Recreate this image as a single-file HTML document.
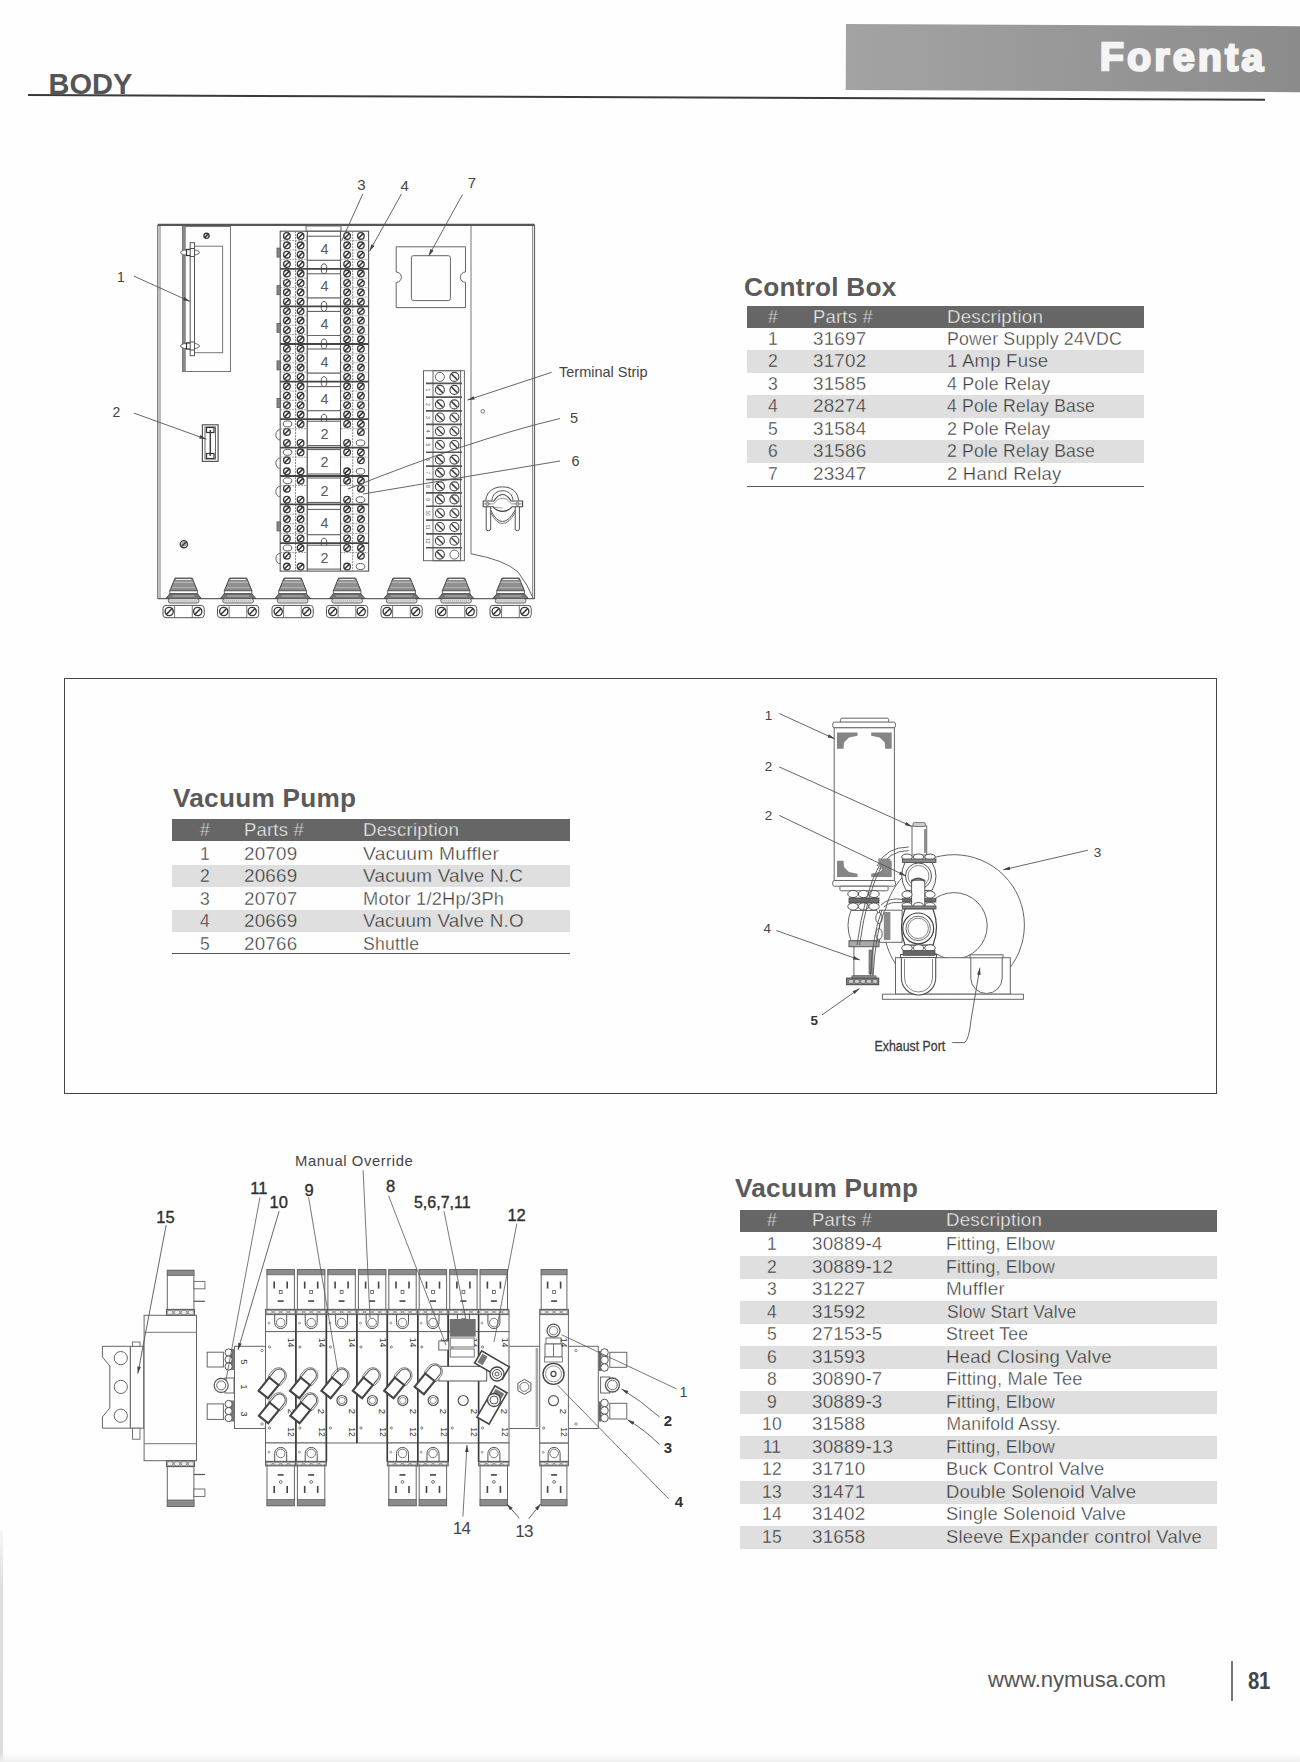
<!DOCTYPE html>
<html><head><meta charset="utf-8">
<style>
html,body{margin:0;padding:0;}
body{width:1300px;height:1762px;position:relative;overflow:hidden;background:#fefefe;font-family:"Liberation Sans",sans-serif;color:#4a4a4a;}
.a{position:absolute;}
.banner{left:845.5px;top:24.3px;width:456px;height:65.7px;transform-origin:0 0;transform:rotate(0.27deg);background:linear-gradient(90deg,#a3a3a3 0%,#999 45%,#8b8b8b 100%);}
.forenta{left:1099.5px;top:32.5px;transform-origin:0 0;transform:rotate(0.27deg);font-weight:bold;font-size:39.5px;color:#f4f4f4;letter-spacing:3.1px;-webkit-text-stroke:2.3px #f4f4f4;line-height:46px;}
.body-t{left:48.5px;top:66.5px;font-weight:bold;font-size:29px;color:#555;line-height:34px;}
.hr{left:28px;top:94.3px;width:1237px;height:2.2px;background:#3a3a3a;transform-origin:0 50%;transform:rotate(0.222deg);}
.title{font-weight:bold;font-size:26.2px;color:#5a5a5a;line-height:30px;letter-spacing:0.25px;}
.hd{background:#666;}
.gr{background:#dfdfdf;}
.tx{font-size:17.5px;line-height:22.6px;white-space:nowrap;letter-spacing:0.2px;color:#363636;-webkit-text-stroke:0.35px #fefefe;}
.txg{-webkit-text-stroke:0.35px #dfdfdf;}
.sc{transform-origin:0 50%;}
.hdt{color:#f2f2f2;-webkit-text-stroke:0.35px #666;}
.foot{left:988px;top:1666.6px;font-size:22.1px;color:#555;}
.pg{left:1248.3px;top:1666.7px;font-size:24.2px;font-weight:bold;color:#444;letter-spacing:-0.4px;transform:scaleX(0.84);transform-origin:0 0;}
.vbar{left:1231px;top:1660.5px;width:1.8px;height:40px;background:#777;}
.edgeL{left:0;top:1530px;width:3.2px;height:232px;background:linear-gradient(180deg,#f6f6f6,#dfdfdf 25%,#dcdcdc);}
.edgeB{left:0;top:1752px;width:1300px;height:10px;background:linear-gradient(180deg,rgba(240,240,240,0),#f0f0f0);}
svg{position:absolute;left:0;top:0;}
</style></head>
<body>
<svg width="1300" height="1762" viewBox="0 0 1300 1762" style="position:absolute;left:0;top:0" font-family="Liberation Sans, sans-serif"><line x1="157.8" y1="224.8" x2="534.5" y2="224.8" stroke="#555" stroke-width="2.2" /><line x1="157.8" y1="224.8" x2="157.8" y2="599" stroke="#666" stroke-width="1.2" /><line x1="160" y1="226" x2="160" y2="599" stroke="#777" stroke-width="1" /><line x1="534.5" y1="224.8" x2="534.5" y2="599" stroke="#666" stroke-width="1.2" /><line x1="532.6" y1="226" x2="532.6" y2="598" stroke="#888" stroke-width="1" /><line x1="157.8" y1="598.6" x2="534.5" y2="598.6" stroke="#666" stroke-width="1.3" /><line x1="471" y1="226" x2="471" y2="553.8" stroke="#777" stroke-width="1" /><path d="M471 553.8 Q505 560 518 572 Q528 585 533 598" stroke="#666" stroke-width="1" fill="none"/><rect x="182.5" y="226.5" width="48" height="145" stroke="#777" stroke-width="1" fill="none" /><line x1="184.3" y1="226.5" x2="184.3" y2="371.3" stroke="#888" stroke-width="3" /><rect x="194.4" y="246.2" width="28.2" height="106.5" stroke="#777" stroke-width="1" fill="none" /><rect x="190.2" y="242.7" width="4.3" height="113" stroke="#555" stroke-width="1" fill="#fff" /><ellipse cx="190" cy="252.5" rx="9.5" ry="3" stroke="#666" stroke-width="1" fill="#fff"/><rect x="186.5" y="249.5" width="5" height="6" stroke="#333" stroke-width="1.2" fill="#fff" /><rect x="190.2" y="248.5" width="4.3" height="8" stroke="#555" stroke-width="1" fill="#fff" /><ellipse cx="190" cy="346" rx="9.5" ry="3" stroke="#666" stroke-width="1" fill="#fff"/><rect x="186.5" y="343" width="5" height="6" stroke="#333" stroke-width="1.2" fill="#fff" /><rect x="190.2" y="342" width="4.3" height="8" stroke="#555" stroke-width="1" fill="#fff" /><circle cx="206.5" cy="235.8" r="2.6" stroke="#3a3a3a" stroke-width="1.35" fill="#fff"/><line x1="204.6" y1="237.7" x2="208.4" y2="233.9" stroke="#333" stroke-width="1.6" /><rect x="202.4" y="424.8" width="15.7" height="36.6" stroke="#555" stroke-width="1.2" fill="none" /><rect x="205" y="427" width="10.5" height="32" stroke="#666" stroke-width="1" fill="none" /><line x1="210.3" y1="430" x2="210.3" y2="456" stroke="#444" stroke-width="1.5" /><rect x="206.5" y="427.5" width="7.5" height="5" stroke="#333" stroke-width="1.2" fill="none" /><rect x="206.5" y="453.5" width="7.5" height="5" stroke="#333" stroke-width="1.2" fill="none" /><rect x="280.2" y="231.2" width="88.4" height="339.9" fill="#fff" stroke="#555" stroke-width="1.1"/><rect x="306" y="226" width="35" height="5.2" stroke="#666" stroke-width="1" fill="none" /><line x1="295.5" y1="231.2" x2="295.5" y2="571.1" stroke="#777" stroke-width="0.9" stroke-dasharray="2,1"/><line x1="352.7" y1="231.2" x2="352.7" y2="571.1" stroke="#777" stroke-width="0.9" stroke-dasharray="2,1"/><line x1="307.3" y1="231.2" x2="307.3" y2="571.1" stroke="#555" stroke-width="1.1" /><line x1="340.5" y1="231.2" x2="340.5" y2="571.1" stroke="#555" stroke-width="1.1" /><circle cx="286.9" cy="235.9" r="3.3" stroke="#3a3a3a" stroke-width="1.35" fill="#fff"/><line x1="284.5" y1="238.3" x2="289.3" y2="233.5" stroke="#333" stroke-width="1.6" /><circle cx="300.6" cy="235.9" r="3.3" stroke="#3a3a3a" stroke-width="1.35" fill="#fff"/><line x1="298.2" y1="238.3" x2="303" y2="233.5" stroke="#333" stroke-width="1.6" /><circle cx="347.1" cy="235.9" r="3.3" stroke="#3a3a3a" stroke-width="1.35" fill="#fff"/><line x1="344.7" y1="238.3" x2="349.5" y2="233.5" stroke="#333" stroke-width="1.6" /><circle cx="360.9" cy="235.9" r="3.3" stroke="#3a3a3a" stroke-width="1.35" fill="#fff"/><line x1="358.5" y1="238.3" x2="363.3" y2="233.5" stroke="#333" stroke-width="1.6" /><circle cx="286.9" cy="245.3" r="3.3" stroke="#3a3a3a" stroke-width="1.35" fill="#fff"/><line x1="284.5" y1="247.7" x2="289.3" y2="242.9" stroke="#333" stroke-width="1.6" /><circle cx="300.6" cy="245.3" r="3.3" stroke="#3a3a3a" stroke-width="1.35" fill="#fff"/><line x1="298.2" y1="247.7" x2="303" y2="242.9" stroke="#333" stroke-width="1.6" /><circle cx="347.1" cy="245.3" r="3.3" stroke="#3a3a3a" stroke-width="1.35" fill="#fff"/><line x1="344.7" y1="247.7" x2="349.5" y2="242.9" stroke="#333" stroke-width="1.6" /><circle cx="360.9" cy="245.3" r="3.3" stroke="#3a3a3a" stroke-width="1.35" fill="#fff"/><line x1="358.5" y1="247.7" x2="363.3" y2="242.9" stroke="#333" stroke-width="1.6" /><line x1="280.2" y1="240.6" x2="307.3" y2="240.6" stroke="#888" stroke-width="0.8" stroke-dasharray="2,1"/><line x1="340.5" y1="240.6" x2="368.6" y2="240.6" stroke="#888" stroke-width="0.8" stroke-dasharray="2,1"/><circle cx="286.9" cy="254.7" r="3.3" stroke="#3a3a3a" stroke-width="1.35" fill="#fff"/><line x1="284.5" y1="257.1" x2="289.3" y2="252.3" stroke="#333" stroke-width="1.6" /><circle cx="300.6" cy="254.7" r="3.3" stroke="#3a3a3a" stroke-width="1.35" fill="#fff"/><line x1="298.2" y1="257.1" x2="303" y2="252.3" stroke="#333" stroke-width="1.6" /><circle cx="347.1" cy="254.7" r="3.3" stroke="#3a3a3a" stroke-width="1.35" fill="#fff"/><line x1="344.7" y1="257.1" x2="349.5" y2="252.3" stroke="#333" stroke-width="1.6" /><circle cx="360.9" cy="254.7" r="3.3" stroke="#3a3a3a" stroke-width="1.35" fill="#fff"/><line x1="358.5" y1="257.1" x2="363.3" y2="252.3" stroke="#333" stroke-width="1.6" /><line x1="280.2" y1="250" x2="307.3" y2="250" stroke="#888" stroke-width="0.8" stroke-dasharray="2,1"/><line x1="340.5" y1="250" x2="368.6" y2="250" stroke="#888" stroke-width="0.8" stroke-dasharray="2,1"/><circle cx="286.9" cy="264.1" r="3.3" stroke="#3a3a3a" stroke-width="1.35" fill="#fff"/><line x1="284.5" y1="266.5" x2="289.3" y2="261.7" stroke="#333" stroke-width="1.6" /><circle cx="300.6" cy="264.1" r="3.3" stroke="#3a3a3a" stroke-width="1.35" fill="#fff"/><line x1="298.2" y1="266.5" x2="303" y2="261.7" stroke="#333" stroke-width="1.6" /><circle cx="347.1" cy="264.1" r="3.3" stroke="#3a3a3a" stroke-width="1.35" fill="#fff"/><line x1="344.7" y1="266.5" x2="349.5" y2="261.7" stroke="#333" stroke-width="1.6" /><circle cx="360.9" cy="264.1" r="3.3" stroke="#3a3a3a" stroke-width="1.35" fill="#fff"/><line x1="358.5" y1="266.5" x2="363.3" y2="261.7" stroke="#333" stroke-width="1.6" /><line x1="280.2" y1="259.4" x2="307.3" y2="259.4" stroke="#888" stroke-width="0.8" stroke-dasharray="2,1"/><line x1="340.5" y1="259.4" x2="368.6" y2="259.4" stroke="#888" stroke-width="0.8" stroke-dasharray="2,1"/><rect x="307.3" y="236.2" width="33.2" height="24.1" stroke="#555" stroke-width="1" fill="#fff" /><text x="324.5" y="253.8" font-size="14.5" text-anchor="middle" fill="#5a5a5a" >4</text><ellipse cx="324" cy="268.8" rx="2.8" ry="5" fill="#fff" stroke="#555" stroke-width="1"/><line x1="307.3" y1="260.3" x2="340.5" y2="260.3" stroke="#777" stroke-width="0.8" stroke-dasharray="2,1"/><rect x="277" y="248.1" width="3.2" height="9" fill="#888" stroke="#555" stroke-width="0.8"/><line x1="280.2" y1="268.8" x2="368.6" y2="268.8" stroke="#444" stroke-width="1.8" /><circle cx="286.9" cy="273.5" r="3.3" stroke="#3a3a3a" stroke-width="1.35" fill="#fff"/><line x1="284.5" y1="275.9" x2="289.3" y2="271.1" stroke="#333" stroke-width="1.6" /><circle cx="300.6" cy="273.5" r="3.3" stroke="#3a3a3a" stroke-width="1.35" fill="#fff"/><line x1="298.2" y1="275.9" x2="303" y2="271.1" stroke="#333" stroke-width="1.6" /><circle cx="347.1" cy="273.5" r="3.3" stroke="#3a3a3a" stroke-width="1.35" fill="#fff"/><line x1="344.7" y1="275.9" x2="349.5" y2="271.1" stroke="#333" stroke-width="1.6" /><circle cx="360.9" cy="273.5" r="3.3" stroke="#3a3a3a" stroke-width="1.35" fill="#fff"/><line x1="358.5" y1="275.9" x2="363.3" y2="271.1" stroke="#333" stroke-width="1.6" /><circle cx="286.9" cy="282.9" r="3.3" stroke="#3a3a3a" stroke-width="1.35" fill="#fff"/><line x1="284.5" y1="285.3" x2="289.3" y2="280.5" stroke="#333" stroke-width="1.6" /><circle cx="300.6" cy="282.9" r="3.3" stroke="#3a3a3a" stroke-width="1.35" fill="#fff"/><line x1="298.2" y1="285.3" x2="303" y2="280.5" stroke="#333" stroke-width="1.6" /><circle cx="347.1" cy="282.9" r="3.3" stroke="#3a3a3a" stroke-width="1.35" fill="#fff"/><line x1="344.7" y1="285.3" x2="349.5" y2="280.5" stroke="#333" stroke-width="1.6" /><circle cx="360.9" cy="282.9" r="3.3" stroke="#3a3a3a" stroke-width="1.35" fill="#fff"/><line x1="358.5" y1="285.3" x2="363.3" y2="280.5" stroke="#333" stroke-width="1.6" /><line x1="280.2" y1="278.2" x2="307.3" y2="278.2" stroke="#888" stroke-width="0.8" stroke-dasharray="2,1"/><line x1="340.5" y1="278.2" x2="368.6" y2="278.2" stroke="#888" stroke-width="0.8" stroke-dasharray="2,1"/><circle cx="286.9" cy="292.3" r="3.3" stroke="#3a3a3a" stroke-width="1.35" fill="#fff"/><line x1="284.5" y1="294.7" x2="289.3" y2="289.9" stroke="#333" stroke-width="1.6" /><circle cx="300.6" cy="292.3" r="3.3" stroke="#3a3a3a" stroke-width="1.35" fill="#fff"/><line x1="298.2" y1="294.7" x2="303" y2="289.9" stroke="#333" stroke-width="1.6" /><circle cx="347.1" cy="292.3" r="3.3" stroke="#3a3a3a" stroke-width="1.35" fill="#fff"/><line x1="344.7" y1="294.7" x2="349.5" y2="289.9" stroke="#333" stroke-width="1.6" /><circle cx="360.9" cy="292.3" r="3.3" stroke="#3a3a3a" stroke-width="1.35" fill="#fff"/><line x1="358.5" y1="294.7" x2="363.3" y2="289.9" stroke="#333" stroke-width="1.6" /><line x1="280.2" y1="287.6" x2="307.3" y2="287.6" stroke="#888" stroke-width="0.8" stroke-dasharray="2,1"/><line x1="340.5" y1="287.6" x2="368.6" y2="287.6" stroke="#888" stroke-width="0.8" stroke-dasharray="2,1"/><circle cx="286.9" cy="301.7" r="3.3" stroke="#3a3a3a" stroke-width="1.35" fill="#fff"/><line x1="284.5" y1="304.1" x2="289.3" y2="299.3" stroke="#333" stroke-width="1.6" /><circle cx="300.6" cy="301.7" r="3.3" stroke="#3a3a3a" stroke-width="1.35" fill="#fff"/><line x1="298.2" y1="304.1" x2="303" y2="299.3" stroke="#333" stroke-width="1.6" /><circle cx="347.1" cy="301.7" r="3.3" stroke="#3a3a3a" stroke-width="1.35" fill="#fff"/><line x1="344.7" y1="304.1" x2="349.5" y2="299.3" stroke="#333" stroke-width="1.6" /><circle cx="360.9" cy="301.7" r="3.3" stroke="#3a3a3a" stroke-width="1.35" fill="#fff"/><line x1="358.5" y1="304.1" x2="363.3" y2="299.3" stroke="#333" stroke-width="1.6" /><line x1="280.2" y1="297" x2="307.3" y2="297" stroke="#888" stroke-width="0.8" stroke-dasharray="2,1"/><line x1="340.5" y1="297" x2="368.6" y2="297" stroke="#888" stroke-width="0.8" stroke-dasharray="2,1"/><rect x="307.3" y="273.8" width="33.2" height="24.1" stroke="#555" stroke-width="1" fill="#fff" /><text x="324.5" y="291.4" font-size="14.5" text-anchor="middle" fill="#5a5a5a" >4</text><ellipse cx="324" cy="306.4" rx="2.8" ry="5" fill="#fff" stroke="#555" stroke-width="1"/><line x1="307.3" y1="297.9" x2="340.5" y2="297.9" stroke="#777" stroke-width="0.8" stroke-dasharray="2,1"/><rect x="277" y="285.7" width="3.2" height="9" fill="#888" stroke="#555" stroke-width="0.8"/><line x1="280.2" y1="306.4" x2="368.6" y2="306.4" stroke="#444" stroke-width="1.8" /><circle cx="286.9" cy="311.1" r="3.3" stroke="#3a3a3a" stroke-width="1.35" fill="#fff"/><line x1="284.5" y1="313.5" x2="289.3" y2="308.7" stroke="#333" stroke-width="1.6" /><circle cx="300.6" cy="311.1" r="3.3" stroke="#3a3a3a" stroke-width="1.35" fill="#fff"/><line x1="298.2" y1="313.5" x2="303" y2="308.7" stroke="#333" stroke-width="1.6" /><circle cx="347.1" cy="311.1" r="3.3" stroke="#3a3a3a" stroke-width="1.35" fill="#fff"/><line x1="344.7" y1="313.5" x2="349.5" y2="308.7" stroke="#333" stroke-width="1.6" /><circle cx="360.9" cy="311.1" r="3.3" stroke="#3a3a3a" stroke-width="1.35" fill="#fff"/><line x1="358.5" y1="313.5" x2="363.3" y2="308.7" stroke="#333" stroke-width="1.6" /><circle cx="286.9" cy="320.5" r="3.3" stroke="#3a3a3a" stroke-width="1.35" fill="#fff"/><line x1="284.5" y1="322.9" x2="289.3" y2="318.1" stroke="#333" stroke-width="1.6" /><circle cx="300.6" cy="320.5" r="3.3" stroke="#3a3a3a" stroke-width="1.35" fill="#fff"/><line x1="298.2" y1="322.9" x2="303" y2="318.1" stroke="#333" stroke-width="1.6" /><circle cx="347.1" cy="320.5" r="3.3" stroke="#3a3a3a" stroke-width="1.35" fill="#fff"/><line x1="344.7" y1="322.9" x2="349.5" y2="318.1" stroke="#333" stroke-width="1.6" /><circle cx="360.9" cy="320.5" r="3.3" stroke="#3a3a3a" stroke-width="1.35" fill="#fff"/><line x1="358.5" y1="322.9" x2="363.3" y2="318.1" stroke="#333" stroke-width="1.6" /><line x1="280.2" y1="315.8" x2="307.3" y2="315.8" stroke="#888" stroke-width="0.8" stroke-dasharray="2,1"/><line x1="340.5" y1="315.8" x2="368.6" y2="315.8" stroke="#888" stroke-width="0.8" stroke-dasharray="2,1"/><circle cx="286.9" cy="329.9" r="3.3" stroke="#3a3a3a" stroke-width="1.35" fill="#fff"/><line x1="284.5" y1="332.3" x2="289.3" y2="327.5" stroke="#333" stroke-width="1.6" /><circle cx="300.6" cy="329.9" r="3.3" stroke="#3a3a3a" stroke-width="1.35" fill="#fff"/><line x1="298.2" y1="332.3" x2="303" y2="327.5" stroke="#333" stroke-width="1.6" /><circle cx="347.1" cy="329.9" r="3.3" stroke="#3a3a3a" stroke-width="1.35" fill="#fff"/><line x1="344.7" y1="332.3" x2="349.5" y2="327.5" stroke="#333" stroke-width="1.6" /><circle cx="360.9" cy="329.9" r="3.3" stroke="#3a3a3a" stroke-width="1.35" fill="#fff"/><line x1="358.5" y1="332.3" x2="363.3" y2="327.5" stroke="#333" stroke-width="1.6" /><line x1="280.2" y1="325.2" x2="307.3" y2="325.2" stroke="#888" stroke-width="0.8" stroke-dasharray="2,1"/><line x1="340.5" y1="325.2" x2="368.6" y2="325.2" stroke="#888" stroke-width="0.8" stroke-dasharray="2,1"/><circle cx="286.9" cy="339.3" r="3.3" stroke="#3a3a3a" stroke-width="1.35" fill="#fff"/><line x1="284.5" y1="341.7" x2="289.3" y2="336.9" stroke="#333" stroke-width="1.6" /><circle cx="300.6" cy="339.3" r="3.3" stroke="#3a3a3a" stroke-width="1.35" fill="#fff"/><line x1="298.2" y1="341.7" x2="303" y2="336.9" stroke="#333" stroke-width="1.6" /><circle cx="347.1" cy="339.3" r="3.3" stroke="#3a3a3a" stroke-width="1.35" fill="#fff"/><line x1="344.7" y1="341.7" x2="349.5" y2="336.9" stroke="#333" stroke-width="1.6" /><circle cx="360.9" cy="339.3" r="3.3" stroke="#3a3a3a" stroke-width="1.35" fill="#fff"/><line x1="358.5" y1="341.7" x2="363.3" y2="336.9" stroke="#333" stroke-width="1.6" /><line x1="280.2" y1="334.6" x2="307.3" y2="334.6" stroke="#888" stroke-width="0.8" stroke-dasharray="2,1"/><line x1="340.5" y1="334.6" x2="368.6" y2="334.6" stroke="#888" stroke-width="0.8" stroke-dasharray="2,1"/><rect x="307.3" y="311.4" width="33.2" height="24.1" stroke="#555" stroke-width="1" fill="#fff" /><text x="324.5" y="329" font-size="14.5" text-anchor="middle" fill="#5a5a5a" >4</text><ellipse cx="324" cy="344" rx="2.8" ry="5" fill="#fff" stroke="#555" stroke-width="1"/><line x1="307.3" y1="335.5" x2="340.5" y2="335.5" stroke="#777" stroke-width="0.8" stroke-dasharray="2,1"/><rect x="277" y="323.3" width="3.2" height="9" fill="#888" stroke="#555" stroke-width="0.8"/><line x1="280.2" y1="344" x2="368.6" y2="344" stroke="#444" stroke-width="1.8" /><circle cx="286.9" cy="348.7" r="3.3" stroke="#3a3a3a" stroke-width="1.35" fill="#fff"/><line x1="284.5" y1="351.1" x2="289.3" y2="346.3" stroke="#333" stroke-width="1.6" /><circle cx="300.6" cy="348.7" r="3.3" stroke="#3a3a3a" stroke-width="1.35" fill="#fff"/><line x1="298.2" y1="351.1" x2="303" y2="346.3" stroke="#333" stroke-width="1.6" /><circle cx="347.1" cy="348.7" r="3.3" stroke="#3a3a3a" stroke-width="1.35" fill="#fff"/><line x1="344.7" y1="351.1" x2="349.5" y2="346.3" stroke="#333" stroke-width="1.6" /><circle cx="360.9" cy="348.7" r="3.3" stroke="#3a3a3a" stroke-width="1.35" fill="#fff"/><line x1="358.5" y1="351.1" x2="363.3" y2="346.3" stroke="#333" stroke-width="1.6" /><circle cx="286.9" cy="358.1" r="3.3" stroke="#3a3a3a" stroke-width="1.35" fill="#fff"/><line x1="284.5" y1="360.5" x2="289.3" y2="355.7" stroke="#333" stroke-width="1.6" /><circle cx="300.6" cy="358.1" r="3.3" stroke="#3a3a3a" stroke-width="1.35" fill="#fff"/><line x1="298.2" y1="360.5" x2="303" y2="355.7" stroke="#333" stroke-width="1.6" /><circle cx="347.1" cy="358.1" r="3.3" stroke="#3a3a3a" stroke-width="1.35" fill="#fff"/><line x1="344.7" y1="360.5" x2="349.5" y2="355.7" stroke="#333" stroke-width="1.6" /><circle cx="360.9" cy="358.1" r="3.3" stroke="#3a3a3a" stroke-width="1.35" fill="#fff"/><line x1="358.5" y1="360.5" x2="363.3" y2="355.7" stroke="#333" stroke-width="1.6" /><line x1="280.2" y1="353.4" x2="307.3" y2="353.4" stroke="#888" stroke-width="0.8" stroke-dasharray="2,1"/><line x1="340.5" y1="353.4" x2="368.6" y2="353.4" stroke="#888" stroke-width="0.8" stroke-dasharray="2,1"/><circle cx="286.9" cy="367.5" r="3.3" stroke="#3a3a3a" stroke-width="1.35" fill="#fff"/><line x1="284.5" y1="369.9" x2="289.3" y2="365.1" stroke="#333" stroke-width="1.6" /><circle cx="300.6" cy="367.5" r="3.3" stroke="#3a3a3a" stroke-width="1.35" fill="#fff"/><line x1="298.2" y1="369.9" x2="303" y2="365.1" stroke="#333" stroke-width="1.6" /><circle cx="347.1" cy="367.5" r="3.3" stroke="#3a3a3a" stroke-width="1.35" fill="#fff"/><line x1="344.7" y1="369.9" x2="349.5" y2="365.1" stroke="#333" stroke-width="1.6" /><circle cx="360.9" cy="367.5" r="3.3" stroke="#3a3a3a" stroke-width="1.35" fill="#fff"/><line x1="358.5" y1="369.9" x2="363.3" y2="365.1" stroke="#333" stroke-width="1.6" /><line x1="280.2" y1="362.8" x2="307.3" y2="362.8" stroke="#888" stroke-width="0.8" stroke-dasharray="2,1"/><line x1="340.5" y1="362.8" x2="368.6" y2="362.8" stroke="#888" stroke-width="0.8" stroke-dasharray="2,1"/><circle cx="286.9" cy="376.9" r="3.3" stroke="#3a3a3a" stroke-width="1.35" fill="#fff"/><line x1="284.5" y1="379.3" x2="289.3" y2="374.5" stroke="#333" stroke-width="1.6" /><circle cx="300.6" cy="376.9" r="3.3" stroke="#3a3a3a" stroke-width="1.35" fill="#fff"/><line x1="298.2" y1="379.3" x2="303" y2="374.5" stroke="#333" stroke-width="1.6" /><circle cx="347.1" cy="376.9" r="3.3" stroke="#3a3a3a" stroke-width="1.35" fill="#fff"/><line x1="344.7" y1="379.3" x2="349.5" y2="374.5" stroke="#333" stroke-width="1.6" /><circle cx="360.9" cy="376.9" r="3.3" stroke="#3a3a3a" stroke-width="1.35" fill="#fff"/><line x1="358.5" y1="379.3" x2="363.3" y2="374.5" stroke="#333" stroke-width="1.6" /><line x1="280.2" y1="372.2" x2="307.3" y2="372.2" stroke="#888" stroke-width="0.8" stroke-dasharray="2,1"/><line x1="340.5" y1="372.2" x2="368.6" y2="372.2" stroke="#888" stroke-width="0.8" stroke-dasharray="2,1"/><rect x="307.3" y="349" width="33.2" height="24.1" stroke="#555" stroke-width="1" fill="#fff" /><text x="324.5" y="366.6" font-size="14.5" text-anchor="middle" fill="#5a5a5a" >4</text><ellipse cx="324" cy="381.6" rx="2.8" ry="5" fill="#fff" stroke="#555" stroke-width="1"/><line x1="307.3" y1="373.1" x2="340.5" y2="373.1" stroke="#777" stroke-width="0.8" stroke-dasharray="2,1"/><rect x="277" y="360.9" width="3.2" height="9" fill="#888" stroke="#555" stroke-width="0.8"/><line x1="280.2" y1="381.6" x2="368.6" y2="381.6" stroke="#444" stroke-width="1.8" /><circle cx="286.9" cy="386.3" r="3.3" stroke="#3a3a3a" stroke-width="1.35" fill="#fff"/><line x1="284.5" y1="388.7" x2="289.3" y2="383.9" stroke="#333" stroke-width="1.6" /><circle cx="300.6" cy="386.3" r="3.3" stroke="#3a3a3a" stroke-width="1.35" fill="#fff"/><line x1="298.2" y1="388.7" x2="303" y2="383.9" stroke="#333" stroke-width="1.6" /><circle cx="347.1" cy="386.3" r="3.3" stroke="#3a3a3a" stroke-width="1.35" fill="#fff"/><line x1="344.7" y1="388.7" x2="349.5" y2="383.9" stroke="#333" stroke-width="1.6" /><circle cx="360.9" cy="386.3" r="3.3" stroke="#3a3a3a" stroke-width="1.35" fill="#fff"/><line x1="358.5" y1="388.7" x2="363.3" y2="383.9" stroke="#333" stroke-width="1.6" /><circle cx="286.9" cy="395.7" r="3.3" stroke="#3a3a3a" stroke-width="1.35" fill="#fff"/><line x1="284.5" y1="398.1" x2="289.3" y2="393.3" stroke="#333" stroke-width="1.6" /><circle cx="300.6" cy="395.7" r="3.3" stroke="#3a3a3a" stroke-width="1.35" fill="#fff"/><line x1="298.2" y1="398.1" x2="303" y2="393.3" stroke="#333" stroke-width="1.6" /><circle cx="347.1" cy="395.7" r="3.3" stroke="#3a3a3a" stroke-width="1.35" fill="#fff"/><line x1="344.7" y1="398.1" x2="349.5" y2="393.3" stroke="#333" stroke-width="1.6" /><circle cx="360.9" cy="395.7" r="3.3" stroke="#3a3a3a" stroke-width="1.35" fill="#fff"/><line x1="358.5" y1="398.1" x2="363.3" y2="393.3" stroke="#333" stroke-width="1.6" /><line x1="280.2" y1="391" x2="307.3" y2="391" stroke="#888" stroke-width="0.8" stroke-dasharray="2,1"/><line x1="340.5" y1="391" x2="368.6" y2="391" stroke="#888" stroke-width="0.8" stroke-dasharray="2,1"/><circle cx="286.9" cy="405.1" r="3.3" stroke="#3a3a3a" stroke-width="1.35" fill="#fff"/><line x1="284.5" y1="407.5" x2="289.3" y2="402.7" stroke="#333" stroke-width="1.6" /><circle cx="300.6" cy="405.1" r="3.3" stroke="#3a3a3a" stroke-width="1.35" fill="#fff"/><line x1="298.2" y1="407.5" x2="303" y2="402.7" stroke="#333" stroke-width="1.6" /><circle cx="347.1" cy="405.1" r="3.3" stroke="#3a3a3a" stroke-width="1.35" fill="#fff"/><line x1="344.7" y1="407.5" x2="349.5" y2="402.7" stroke="#333" stroke-width="1.6" /><circle cx="360.9" cy="405.1" r="3.3" stroke="#3a3a3a" stroke-width="1.35" fill="#fff"/><line x1="358.5" y1="407.5" x2="363.3" y2="402.7" stroke="#333" stroke-width="1.6" /><line x1="280.2" y1="400.4" x2="307.3" y2="400.4" stroke="#888" stroke-width="0.8" stroke-dasharray="2,1"/><line x1="340.5" y1="400.4" x2="368.6" y2="400.4" stroke="#888" stroke-width="0.8" stroke-dasharray="2,1"/><circle cx="286.9" cy="414.5" r="3.3" stroke="#3a3a3a" stroke-width="1.35" fill="#fff"/><line x1="284.5" y1="416.9" x2="289.3" y2="412.1" stroke="#333" stroke-width="1.6" /><circle cx="300.6" cy="414.5" r="3.3" stroke="#3a3a3a" stroke-width="1.35" fill="#fff"/><line x1="298.2" y1="416.9" x2="303" y2="412.1" stroke="#333" stroke-width="1.6" /><circle cx="347.1" cy="414.5" r="3.3" stroke="#3a3a3a" stroke-width="1.35" fill="#fff"/><line x1="344.7" y1="416.9" x2="349.5" y2="412.1" stroke="#333" stroke-width="1.6" /><circle cx="360.9" cy="414.5" r="3.3" stroke="#3a3a3a" stroke-width="1.35" fill="#fff"/><line x1="358.5" y1="416.9" x2="363.3" y2="412.1" stroke="#333" stroke-width="1.6" /><line x1="280.2" y1="409.8" x2="307.3" y2="409.8" stroke="#888" stroke-width="0.8" stroke-dasharray="2,1"/><line x1="340.5" y1="409.8" x2="368.6" y2="409.8" stroke="#888" stroke-width="0.8" stroke-dasharray="2,1"/><rect x="307.3" y="386.6" width="33.2" height="24.1" stroke="#555" stroke-width="1" fill="#fff" /><text x="324.5" y="404.2" font-size="14.5" text-anchor="middle" fill="#5a5a5a" >4</text><ellipse cx="324" cy="419.2" rx="2.8" ry="5" fill="#fff" stroke="#555" stroke-width="1"/><line x1="307.3" y1="410.7" x2="340.5" y2="410.7" stroke="#777" stroke-width="0.8" stroke-dasharray="2,1"/><rect x="277" y="398.5" width="3.2" height="9" fill="#888" stroke="#555" stroke-width="0.8"/><line x1="280.2" y1="419.2" x2="368.6" y2="419.2" stroke="#444" stroke-width="1.8" /><circle cx="300.6" cy="423.9" r="3.3" stroke="#3a3a3a" stroke-width="1.35" fill="#fff"/><line x1="298.2" y1="426.3" x2="303" y2="421.6" stroke="#333" stroke-width="1.6" /><circle cx="347.1" cy="423.9" r="3.3" stroke="#3a3a3a" stroke-width="1.35" fill="#fff"/><line x1="344.7" y1="426.3" x2="349.5" y2="421.6" stroke="#333" stroke-width="1.6" /><circle cx="360.9" cy="423.9" r="3.3" stroke="#3a3a3a" stroke-width="1.35" fill="#fff"/><line x1="358.5" y1="426.3" x2="363.3" y2="421.6" stroke="#333" stroke-width="1.6" /><ellipse cx="287.5" cy="423.9" rx="4.3" ry="3" fill="none" stroke="#555" stroke-width="1"/><circle cx="286.9" cy="431.9" r="3.3" stroke="#3a3a3a" stroke-width="1.35" fill="#fff"/><line x1="284.5" y1="434.3" x2="289.3" y2="429.5" stroke="#333" stroke-width="1.6" /><circle cx="286.9" cy="442.9" r="3.3" stroke="#3a3a3a" stroke-width="1.35" fill="#fff"/><line x1="284.5" y1="445.2" x2="289.3" y2="440.5" stroke="#333" stroke-width="1.6" /><circle cx="300.6" cy="442.9" r="3.3" stroke="#3a3a3a" stroke-width="1.35" fill="#fff"/><line x1="298.2" y1="445.2" x2="303" y2="440.5" stroke="#333" stroke-width="1.6" /><circle cx="360.9" cy="431.9" r="3.3" stroke="#3a3a3a" stroke-width="1.35" fill="#fff"/><line x1="358.5" y1="434.3" x2="363.3" y2="429.5" stroke="#333" stroke-width="1.6" /><circle cx="347.1" cy="442.9" r="3.3" stroke="#3a3a3a" stroke-width="1.35" fill="#fff"/><line x1="344.7" y1="445.2" x2="349.5" y2="440.5" stroke="#333" stroke-width="1.6" /><ellipse cx="360.5" cy="442.9" rx="4.3" ry="3" fill="none" stroke="#555" stroke-width="1"/><line x1="280.2" y1="428.7" x2="307.3" y2="428.7" stroke="#888" stroke-width="0.8" stroke-dasharray="2,1"/><line x1="340.5" y1="428.7" x2="368.6" y2="428.7" stroke="#888" stroke-width="0.8" stroke-dasharray="2,1"/><rect x="307.3" y="421.2" width="33.2" height="24.4" stroke="#555" stroke-width="1" fill="#fff" /><text x="324.5" y="438.9" font-size="14.5" text-anchor="middle" fill="#5a5a5a" >2</text><path d="M280 429.6 a4 5 0 0 0 0 10.4" fill="none" stroke="#666" stroke-width="1"/><line x1="280.2" y1="447.6" x2="368.6" y2="447.6" stroke="#444" stroke-width="1.8" /><circle cx="300.6" cy="452.3" r="3.3" stroke="#3a3a3a" stroke-width="1.35" fill="#fff"/><line x1="298.2" y1="454.7" x2="303" y2="450" stroke="#333" stroke-width="1.6" /><circle cx="347.1" cy="452.3" r="3.3" stroke="#3a3a3a" stroke-width="1.35" fill="#fff"/><line x1="344.7" y1="454.7" x2="349.5" y2="450" stroke="#333" stroke-width="1.6" /><circle cx="360.9" cy="452.3" r="3.3" stroke="#3a3a3a" stroke-width="1.35" fill="#fff"/><line x1="358.5" y1="454.7" x2="363.3" y2="450" stroke="#333" stroke-width="1.6" /><ellipse cx="287.5" cy="452.3" rx="4.3" ry="3" fill="none" stroke="#555" stroke-width="1"/><circle cx="286.9" cy="460.3" r="3.3" stroke="#3a3a3a" stroke-width="1.35" fill="#fff"/><line x1="284.5" y1="462.7" x2="289.3" y2="457.9" stroke="#333" stroke-width="1.6" /><circle cx="286.9" cy="471.3" r="3.3" stroke="#3a3a3a" stroke-width="1.35" fill="#fff"/><line x1="284.5" y1="473.6" x2="289.3" y2="468.9" stroke="#333" stroke-width="1.6" /><circle cx="300.6" cy="471.3" r="3.3" stroke="#3a3a3a" stroke-width="1.35" fill="#fff"/><line x1="298.2" y1="473.6" x2="303" y2="468.9" stroke="#333" stroke-width="1.6" /><circle cx="360.9" cy="460.3" r="3.3" stroke="#3a3a3a" stroke-width="1.35" fill="#fff"/><line x1="358.5" y1="462.7" x2="363.3" y2="457.9" stroke="#333" stroke-width="1.6" /><circle cx="347.1" cy="471.3" r="3.3" stroke="#3a3a3a" stroke-width="1.35" fill="#fff"/><line x1="344.7" y1="473.6" x2="349.5" y2="468.9" stroke="#333" stroke-width="1.6" /><ellipse cx="360.5" cy="471.3" rx="4.3" ry="3" fill="none" stroke="#555" stroke-width="1"/><line x1="280.2" y1="457.1" x2="307.3" y2="457.1" stroke="#888" stroke-width="0.8" stroke-dasharray="2,1"/><line x1="340.5" y1="457.1" x2="368.6" y2="457.1" stroke="#888" stroke-width="0.8" stroke-dasharray="2,1"/><rect x="307.3" y="449.6" width="33.2" height="24.4" stroke="#555" stroke-width="1" fill="#fff" /><text x="324.5" y="467.3" font-size="14.5" text-anchor="middle" fill="#5a5a5a" >2</text><path d="M280 458 a4 5 0 0 0 0 10.4" fill="none" stroke="#666" stroke-width="1"/><line x1="280.2" y1="476" x2="368.6" y2="476" stroke="#444" stroke-width="1.8" /><circle cx="300.6" cy="480.7" r="3.3" stroke="#3a3a3a" stroke-width="1.35" fill="#fff"/><line x1="298.2" y1="483.1" x2="303" y2="478.4" stroke="#333" stroke-width="1.6" /><circle cx="347.1" cy="480.7" r="3.3" stroke="#3a3a3a" stroke-width="1.35" fill="#fff"/><line x1="344.7" y1="483.1" x2="349.5" y2="478.4" stroke="#333" stroke-width="1.6" /><circle cx="360.9" cy="480.7" r="3.3" stroke="#3a3a3a" stroke-width="1.35" fill="#fff"/><line x1="358.5" y1="483.1" x2="363.3" y2="478.4" stroke="#333" stroke-width="1.6" /><ellipse cx="287.5" cy="480.7" rx="4.3" ry="3" fill="none" stroke="#555" stroke-width="1"/><circle cx="286.9" cy="488.7" r="3.3" stroke="#3a3a3a" stroke-width="1.35" fill="#fff"/><line x1="284.5" y1="491.1" x2="289.3" y2="486.3" stroke="#333" stroke-width="1.6" /><circle cx="286.9" cy="499.7" r="3.3" stroke="#3a3a3a" stroke-width="1.35" fill="#fff"/><line x1="284.5" y1="502" x2="289.3" y2="497.3" stroke="#333" stroke-width="1.6" /><circle cx="300.6" cy="499.7" r="3.3" stroke="#3a3a3a" stroke-width="1.35" fill="#fff"/><line x1="298.2" y1="502" x2="303" y2="497.3" stroke="#333" stroke-width="1.6" /><circle cx="360.9" cy="488.7" r="3.3" stroke="#3a3a3a" stroke-width="1.35" fill="#fff"/><line x1="358.5" y1="491.1" x2="363.3" y2="486.3" stroke="#333" stroke-width="1.6" /><circle cx="347.1" cy="499.7" r="3.3" stroke="#3a3a3a" stroke-width="1.35" fill="#fff"/><line x1="344.7" y1="502" x2="349.5" y2="497.3" stroke="#333" stroke-width="1.6" /><ellipse cx="360.5" cy="499.7" rx="4.3" ry="3" fill="none" stroke="#555" stroke-width="1"/><line x1="280.2" y1="485.5" x2="307.3" y2="485.5" stroke="#888" stroke-width="0.8" stroke-dasharray="2,1"/><line x1="340.5" y1="485.5" x2="368.6" y2="485.5" stroke="#888" stroke-width="0.8" stroke-dasharray="2,1"/><rect x="307.3" y="478" width="33.2" height="24.4" stroke="#555" stroke-width="1" fill="#fff" /><text x="324.5" y="495.7" font-size="14.5" text-anchor="middle" fill="#5a5a5a" >2</text><path d="M280 486.4 a4 5 0 0 0 0 10.4" fill="none" stroke="#666" stroke-width="1"/><line x1="280.2" y1="504.4" x2="368.6" y2="504.4" stroke="#444" stroke-width="1.8" /><circle cx="286.9" cy="509.3" r="3.3" stroke="#3a3a3a" stroke-width="1.35" fill="#fff"/><line x1="284.5" y1="511.6" x2="289.3" y2="506.9" stroke="#333" stroke-width="1.6" /><circle cx="300.6" cy="509.3" r="3.3" stroke="#3a3a3a" stroke-width="1.35" fill="#fff"/><line x1="298.2" y1="511.6" x2="303" y2="506.9" stroke="#333" stroke-width="1.6" /><circle cx="347.1" cy="509.3" r="3.3" stroke="#3a3a3a" stroke-width="1.35" fill="#fff"/><line x1="344.7" y1="511.6" x2="349.5" y2="506.9" stroke="#333" stroke-width="1.6" /><circle cx="360.9" cy="509.3" r="3.3" stroke="#3a3a3a" stroke-width="1.35" fill="#fff"/><line x1="358.5" y1="511.6" x2="363.3" y2="506.9" stroke="#333" stroke-width="1.6" /><circle cx="286.9" cy="519" r="3.3" stroke="#3a3a3a" stroke-width="1.35" fill="#fff"/><line x1="284.5" y1="521.3" x2="289.3" y2="516.6" stroke="#333" stroke-width="1.6" /><circle cx="300.6" cy="519" r="3.3" stroke="#3a3a3a" stroke-width="1.35" fill="#fff"/><line x1="298.2" y1="521.3" x2="303" y2="516.6" stroke="#333" stroke-width="1.6" /><circle cx="347.1" cy="519" r="3.3" stroke="#3a3a3a" stroke-width="1.35" fill="#fff"/><line x1="344.7" y1="521.3" x2="349.5" y2="516.6" stroke="#333" stroke-width="1.6" /><circle cx="360.9" cy="519" r="3.3" stroke="#3a3a3a" stroke-width="1.35" fill="#fff"/><line x1="358.5" y1="521.3" x2="363.3" y2="516.6" stroke="#333" stroke-width="1.6" /><line x1="280.2" y1="514.1" x2="307.3" y2="514.1" stroke="#888" stroke-width="0.8" stroke-dasharray="2,1"/><line x1="340.5" y1="514.1" x2="368.6" y2="514.1" stroke="#888" stroke-width="0.8" stroke-dasharray="2,1"/><circle cx="286.9" cy="528.7" r="3.3" stroke="#3a3a3a" stroke-width="1.35" fill="#fff"/><line x1="284.5" y1="531" x2="289.3" y2="526.3" stroke="#333" stroke-width="1.6" /><circle cx="300.6" cy="528.7" r="3.3" stroke="#3a3a3a" stroke-width="1.35" fill="#fff"/><line x1="298.2" y1="531" x2="303" y2="526.3" stroke="#333" stroke-width="1.6" /><circle cx="347.1" cy="528.7" r="3.3" stroke="#3a3a3a" stroke-width="1.35" fill="#fff"/><line x1="344.7" y1="531" x2="349.5" y2="526.3" stroke="#333" stroke-width="1.6" /><circle cx="360.9" cy="528.7" r="3.3" stroke="#3a3a3a" stroke-width="1.35" fill="#fff"/><line x1="358.5" y1="531" x2="363.3" y2="526.3" stroke="#333" stroke-width="1.6" /><line x1="280.2" y1="523.8" x2="307.3" y2="523.8" stroke="#888" stroke-width="0.8" stroke-dasharray="2,1"/><line x1="340.5" y1="523.8" x2="368.6" y2="523.8" stroke="#888" stroke-width="0.8" stroke-dasharray="2,1"/><circle cx="286.9" cy="538.4" r="3.3" stroke="#3a3a3a" stroke-width="1.35" fill="#fff"/><line x1="284.5" y1="540.7" x2="289.3" y2="536" stroke="#333" stroke-width="1.6" /><circle cx="300.6" cy="538.4" r="3.3" stroke="#3a3a3a" stroke-width="1.35" fill="#fff"/><line x1="298.2" y1="540.7" x2="303" y2="536" stroke="#333" stroke-width="1.6" /><circle cx="347.1" cy="538.4" r="3.3" stroke="#3a3a3a" stroke-width="1.35" fill="#fff"/><line x1="344.7" y1="540.7" x2="349.5" y2="536" stroke="#333" stroke-width="1.6" /><circle cx="360.9" cy="538.4" r="3.3" stroke="#3a3a3a" stroke-width="1.35" fill="#fff"/><line x1="358.5" y1="540.7" x2="363.3" y2="536" stroke="#333" stroke-width="1.6" /><line x1="280.2" y1="533.5" x2="307.3" y2="533.5" stroke="#888" stroke-width="0.8" stroke-dasharray="2,1"/><line x1="340.5" y1="533.5" x2="368.6" y2="533.5" stroke="#888" stroke-width="0.8" stroke-dasharray="2,1"/><rect x="307.3" y="509.4" width="33.2" height="25.3" stroke="#555" stroke-width="1" fill="#fff" /><text x="324.5" y="527.6" font-size="14.5" text-anchor="middle" fill="#5a5a5a" >4</text><ellipse cx="324" cy="543.2" rx="2.8" ry="5" fill="#fff" stroke="#555" stroke-width="1"/><line x1="307.3" y1="534.7" x2="340.5" y2="534.7" stroke="#777" stroke-width="0.8" stroke-dasharray="2,1"/><rect x="277" y="521.9" width="3.2" height="9" fill="#888" stroke="#555" stroke-width="0.8"/><line x1="280.2" y1="543.2" x2="368.6" y2="543.2" stroke="#444" stroke-width="1.8" /><circle cx="300.6" cy="547.9" r="3.3" stroke="#3a3a3a" stroke-width="1.35" fill="#fff"/><line x1="298.2" y1="550.2" x2="303" y2="545.5" stroke="#333" stroke-width="1.6" /><circle cx="347.1" cy="547.9" r="3.3" stroke="#3a3a3a" stroke-width="1.35" fill="#fff"/><line x1="344.7" y1="550.2" x2="349.5" y2="545.5" stroke="#333" stroke-width="1.6" /><circle cx="360.9" cy="547.9" r="3.3" stroke="#3a3a3a" stroke-width="1.35" fill="#fff"/><line x1="358.5" y1="550.2" x2="363.3" y2="545.5" stroke="#333" stroke-width="1.6" /><ellipse cx="287.5" cy="547.9" rx="4.3" ry="3" fill="none" stroke="#555" stroke-width="1"/><circle cx="286.9" cy="555.7" r="3.3" stroke="#3a3a3a" stroke-width="1.35" fill="#fff"/><line x1="284.5" y1="558" x2="289.3" y2="553.3" stroke="#333" stroke-width="1.6" /><circle cx="286.9" cy="566.5" r="3.3" stroke="#3a3a3a" stroke-width="1.35" fill="#fff"/><line x1="284.5" y1="568.8" x2="289.3" y2="564.1" stroke="#333" stroke-width="1.6" /><circle cx="300.6" cy="566.5" r="3.3" stroke="#3a3a3a" stroke-width="1.35" fill="#fff"/><line x1="298.2" y1="568.8" x2="303" y2="564.1" stroke="#333" stroke-width="1.6" /><circle cx="360.9" cy="555.7" r="3.3" stroke="#3a3a3a" stroke-width="1.35" fill="#fff"/><line x1="358.5" y1="558" x2="363.3" y2="553.3" stroke="#333" stroke-width="1.6" /><circle cx="347.1" cy="566.5" r="3.3" stroke="#3a3a3a" stroke-width="1.35" fill="#fff"/><line x1="344.7" y1="568.8" x2="349.5" y2="564.1" stroke="#333" stroke-width="1.6" /><ellipse cx="360.5" cy="566.5" rx="4.3" ry="3" fill="none" stroke="#555" stroke-width="1"/><line x1="280.2" y1="552.5" x2="307.3" y2="552.5" stroke="#888" stroke-width="0.8" stroke-dasharray="2,1"/><line x1="340.5" y1="552.5" x2="368.6" y2="552.5" stroke="#888" stroke-width="0.8" stroke-dasharray="2,1"/><rect x="307.3" y="545.2" width="33.2" height="23.9" stroke="#555" stroke-width="1" fill="#fff" /><text x="324.5" y="562.7" font-size="14.5" text-anchor="middle" fill="#5a5a5a" >2</text><path d="M280 553.4 a4 5 0 0 0 0 10.2" fill="none" stroke="#666" stroke-width="1"/><path d="M396.2 246.8 H465.5 V272 a5 5 0 0 0 0 10.4 V307.6 H396.2 V282.4 a5 5 0 0 0 0 -10.4 Z" fill="none" stroke="#666" stroke-width="1"/><rect x="411.4" y="255.7" width="39" height="44.9" stroke="#666" stroke-width="1" fill="none" rx="2" /><rect x="423.5" y="370.7" width="40.9" height="190" stroke="#666" stroke-width="1" fill="none" /><rect x="433" y="370.7" width="27.6" height="190" stroke="#666" stroke-width="1" fill="none" /><circle cx="439.9" cy="376.9" r="4.5" stroke="#666" stroke-width="1" fill="#fff"/><circle cx="454.4" cy="376.9" r="4.5" stroke="#444" stroke-width="1.1" fill="#fff"/><line x1="451.4" y1="373.9" x2="457.4" y2="379.9" stroke="#444" stroke-width="1.6" /><circle cx="439.9" cy="389.9" r="4.5" stroke="#444" stroke-width="1.1" fill="#fff"/><line x1="436.9" y1="386.9" x2="442.9" y2="392.9" stroke="#444" stroke-width="1.6" /><circle cx="454.4" cy="389.9" r="4.5" stroke="#444" stroke-width="1.1" fill="#fff"/><line x1="451.4" y1="386.9" x2="457.4" y2="392.9" stroke="#444" stroke-width="1.6" /><circle cx="439.9" cy="404.4" r="4.5" stroke="#444" stroke-width="1.1" fill="#fff"/><line x1="436.9" y1="401.4" x2="442.9" y2="407.4" stroke="#444" stroke-width="1.6" /><circle cx="454.4" cy="404.4" r="4.5" stroke="#444" stroke-width="1.1" fill="#fff"/><line x1="451.4" y1="401.4" x2="457.4" y2="407.4" stroke="#444" stroke-width="1.6" /><circle cx="439.9" cy="417.5" r="4.5" stroke="#444" stroke-width="1.1" fill="#fff"/><line x1="436.9" y1="414.5" x2="442.9" y2="420.5" stroke="#444" stroke-width="1.6" /><circle cx="454.4" cy="417.5" r="4.5" stroke="#444" stroke-width="1.1" fill="#fff"/><line x1="451.4" y1="414.5" x2="457.4" y2="420.5" stroke="#444" stroke-width="1.6" /><circle cx="439.9" cy="431.2" r="4.5" stroke="#444" stroke-width="1.1" fill="#fff"/><line x1="436.9" y1="428.2" x2="442.9" y2="434.2" stroke="#444" stroke-width="1.6" /><circle cx="454.4" cy="431.2" r="4.5" stroke="#444" stroke-width="1.1" fill="#fff"/><line x1="451.4" y1="428.2" x2="457.4" y2="434.2" stroke="#444" stroke-width="1.6" /><circle cx="439.9" cy="445" r="4.5" stroke="#444" stroke-width="1.1" fill="#fff"/><line x1="436.9" y1="442" x2="442.9" y2="448" stroke="#444" stroke-width="1.6" /><circle cx="454.4" cy="445" r="4.5" stroke="#444" stroke-width="1.1" fill="#fff"/><line x1="451.4" y1="442" x2="457.4" y2="448" stroke="#444" stroke-width="1.6" /><circle cx="439.9" cy="459.6" r="4.5" stroke="#444" stroke-width="1.1" fill="#fff"/><line x1="436.9" y1="456.6" x2="442.9" y2="462.6" stroke="#444" stroke-width="1.6" /><circle cx="454.4" cy="459.6" r="4.5" stroke="#444" stroke-width="1.1" fill="#fff"/><line x1="451.4" y1="456.6" x2="457.4" y2="462.6" stroke="#444" stroke-width="1.6" /><circle cx="439.9" cy="472.6" r="4.5" stroke="#444" stroke-width="1.1" fill="#fff"/><line x1="436.9" y1="469.6" x2="442.9" y2="475.6" stroke="#444" stroke-width="1.6" /><circle cx="454.4" cy="472.6" r="4.5" stroke="#444" stroke-width="1.1" fill="#fff"/><line x1="451.4" y1="469.6" x2="457.4" y2="475.6" stroke="#444" stroke-width="1.6" /><circle cx="439.9" cy="486.4" r="4.5" stroke="#444" stroke-width="1.1" fill="#fff"/><line x1="436.9" y1="483.4" x2="442.9" y2="489.4" stroke="#444" stroke-width="1.6" /><circle cx="454.4" cy="486.4" r="4.5" stroke="#444" stroke-width="1.1" fill="#fff"/><line x1="451.4" y1="483.4" x2="457.4" y2="489.4" stroke="#444" stroke-width="1.6" /><circle cx="439.9" cy="499.4" r="4.5" stroke="#444" stroke-width="1.1" fill="#fff"/><line x1="436.9" y1="496.4" x2="442.9" y2="502.4" stroke="#444" stroke-width="1.6" /><circle cx="454.4" cy="499.4" r="4.5" stroke="#444" stroke-width="1.1" fill="#fff"/><line x1="451.4" y1="496.4" x2="457.4" y2="502.4" stroke="#444" stroke-width="1.6" /><circle cx="439.9" cy="513.2" r="4.5" stroke="#444" stroke-width="1.1" fill="#fff"/><line x1="436.9" y1="510.2" x2="442.9" y2="516.2" stroke="#444" stroke-width="1.6" /><circle cx="454.4" cy="513.2" r="4.5" stroke="#444" stroke-width="1.1" fill="#fff"/><line x1="451.4" y1="510.2" x2="457.4" y2="516.2" stroke="#444" stroke-width="1.6" /><circle cx="439.9" cy="527" r="4.5" stroke="#444" stroke-width="1.1" fill="#fff"/><line x1="436.9" y1="524" x2="442.9" y2="530" stroke="#444" stroke-width="1.6" /><circle cx="454.4" cy="527" r="4.5" stroke="#444" stroke-width="1.1" fill="#fff"/><line x1="451.4" y1="524" x2="457.4" y2="530" stroke="#444" stroke-width="1.6" /><circle cx="439.9" cy="540.8" r="4.5" stroke="#444" stroke-width="1.1" fill="#fff"/><line x1="436.9" y1="537.8" x2="442.9" y2="543.8" stroke="#444" stroke-width="1.6" /><circle cx="454.4" cy="540.8" r="4.5" stroke="#444" stroke-width="1.1" fill="#fff"/><line x1="451.4" y1="537.8" x2="457.4" y2="543.8" stroke="#444" stroke-width="1.6" /><circle cx="439.9" cy="554.6" r="4.5" stroke="#444" stroke-width="1.1" fill="#fff"/><line x1="436.9" y1="551.6" x2="442.9" y2="557.6" stroke="#444" stroke-width="1.6" /><circle cx="454.4" cy="554.6" r="4.5" stroke="#666" stroke-width="1" fill="#fff"/><line x1="426" y1="383.4" x2="462" y2="383.4" stroke="#555" stroke-width="1.6" /><line x1="426" y1="397.1" x2="462" y2="397.1" stroke="#555" stroke-width="1.6" /><line x1="426" y1="410.9" x2="462" y2="410.9" stroke="#555" stroke-width="1.6" /><line x1="426" y1="424.4" x2="462" y2="424.4" stroke="#555" stroke-width="1.6" /><line x1="426" y1="438.1" x2="462" y2="438.1" stroke="#555" stroke-width="1.6" /><line x1="426" y1="452.3" x2="462" y2="452.3" stroke="#555" stroke-width="1.6" /><line x1="426" y1="466.1" x2="462" y2="466.1" stroke="#555" stroke-width="1.6" /><line x1="426" y1="479.5" x2="462" y2="479.5" stroke="#555" stroke-width="1.6" /><line x1="426" y1="492.9" x2="462" y2="492.9" stroke="#555" stroke-width="1.6" /><line x1="426" y1="506.3" x2="462" y2="506.3" stroke="#555" stroke-width="1.6" /><line x1="426" y1="520.1" x2="462" y2="520.1" stroke="#555" stroke-width="1.6" /><line x1="426" y1="533.9" x2="462" y2="533.9" stroke="#555" stroke-width="1.6" /><line x1="426" y1="547.7" x2="462" y2="547.7" stroke="#555" stroke-width="1.6" /><text x="428.5" y="392.4" font-size="5" text-anchor="middle" fill="#555" transform="rotate(90 428.5 389.9)">1</text><text x="428.5" y="406.9" font-size="5" text-anchor="middle" fill="#555" transform="rotate(90 428.5 404.4)">2</text><text x="428.5" y="420" font-size="5" text-anchor="middle" fill="#555" transform="rotate(90 428.5 417.5)">3</text><text x="428.5" y="433.7" font-size="5" text-anchor="middle" fill="#555" transform="rotate(90 428.5 431.2)">4</text><text x="428.5" y="447.5" font-size="5" text-anchor="middle" fill="#555" transform="rotate(90 428.5 445)">5</text><text x="428.5" y="462.1" font-size="5" text-anchor="middle" fill="#555" transform="rotate(90 428.5 459.6)">6</text><text x="428.5" y="475.1" font-size="5" text-anchor="middle" fill="#555" transform="rotate(90 428.5 472.6)">7</text><text x="428.5" y="488.9" font-size="5" text-anchor="middle" fill="#555" transform="rotate(90 428.5 486.4)">8</text><text x="428.5" y="501.9" font-size="5" text-anchor="middle" fill="#555" transform="rotate(90 428.5 499.4)">9</text><text x="428.5" y="515.7" font-size="5" text-anchor="middle" fill="#555" transform="rotate(90 428.5 513.2)">10</text><text x="428.5" y="529.5" font-size="5" text-anchor="middle" fill="#555" transform="rotate(90 428.5 527)">11</text><text x="428.5" y="543.3" font-size="5" text-anchor="middle" fill="#555" transform="rotate(90 428.5 540.8)">12</text><circle cx="482.8" cy="411.3" r="1.8" stroke="#666" stroke-width="0.9" fill="none"/><path d="M486.2 506.8 V529 Q486.2 530.7 488.4 530.7 Q490.7 530.7 490.7 529 V506.8" fill="#fff" stroke="#555" stroke-width="1"/><path d="M515.2 506.8 V529 Q515.2 530.7 517.3 530.7 Q519.4 530.7 519.4 529 V506.8" fill="#fff" stroke="#555" stroke-width="1"/><path d="M485.6 500.5 C487 490 495 486.9 502.5 486.9 C510 486.9 517.5 490 518.6 500.5" fill="none" stroke="#555" stroke-width="1"/><path d="M491.9 500.5 C492.5 494 497 490.7 502.5 490.7 C508 490.7 512.5 494 513.1 500.5" fill="none" stroke="#555" stroke-width="1"/><path d="M490.7 510 Q496 521.5 502.5 521.5 Q509 521.5 515.2 510" fill="none" stroke="#555" stroke-width="1"/><path d="M490.7 512.5 Q496 523.5 502.5 523.5 Q509 523.5 515.2 512.5" fill="none" stroke="#666" stroke-width="0.9"/><path d="M483.2 501 H494 Q498 494.5 502.5 494.5 Q507 494.5 511 501 H522.6 V506.8 H512 Q508 511.4 502.5 511.4 Q497 511.4 493 506.8 H483.2 Z" fill="#fff" stroke="#444" stroke-width="1.1"/><path d="M484 503.9 H493.5 Q498 498 502.5 498 Q507 498 511.5 503.9 H522" fill="none" stroke="#777" stroke-width="0.8"/><path d="M493 506.8 Q497 508 502.5 508" fill="none" stroke="#777" stroke-width="0.7"/><circle cx="487.5" cy="503.9" r="1.6" stroke="#555" stroke-width="0.8" fill="none"/><circle cx="517.5" cy="503.9" r="1.6" stroke="#555" stroke-width="0.8" fill="none"/><path d="M175 578.1 H192.2 L197.4 590.8 H169.8 Z" fill="#8f8f8f" stroke="#444" stroke-width="1"/><line x1="176.1" y1="579.5" x2="191.1" y2="579.5" stroke="#eee" stroke-width="1" /><line x1="173.6" y1="582.3" x2="193.6" y2="582.3" stroke="#ccc" stroke-width="0.8" /><line x1="172.1" y1="587.5" x2="195.1" y2="587.5" stroke="#bbb" stroke-width="0.8" /><rect x="169.8" y="590.8" width="27.6" height="3" stroke="#555" stroke-width="0.9" fill="#fff" /><path d="M169.8 593.8 H197.4 L201.3 598.5 H165.9 Z" fill="#777" stroke="#444" stroke-width="0.9"/><line x1="172.6" y1="596" x2="194.6" y2="596" stroke="#ccc" stroke-width="0.8" /><rect x="168.3" y="598.6" width="30.6" height="4.4" stroke="#555" stroke-width="0.9" fill="#ddd" rx="2" /><line x1="169.6" y1="600.8" x2="197.6" y2="600.8" stroke="#999" stroke-width="0.8" stroke-dasharray="1,1"/><rect x="163" y="605.4" width="41.2" height="12.3" stroke="#555" stroke-width="1" fill="#fff" rx="3" /><line x1="174.6" y1="605.4" x2="174.6" y2="617.7" stroke="#666" stroke-width="0.9" /><line x1="192.3" y1="605.4" x2="192.3" y2="617.7" stroke="#666" stroke-width="0.9" /><circle cx="169.2" cy="611.5" r="4.1" stroke="#3a3a3a" stroke-width="1.35" fill="#fff"/><line x1="166.2" y1="614.5" x2="172.2" y2="608.5" stroke="#333" stroke-width="1.6" /><circle cx="197.7" cy="611.5" r="4.1" stroke="#3a3a3a" stroke-width="1.35" fill="#fff"/><line x1="194.7" y1="614.5" x2="200.7" y2="608.5" stroke="#333" stroke-width="1.6" /><path d="M229.5 578.1 H246.7 L251.9 590.8 H224.3 Z" fill="#8f8f8f" stroke="#444" stroke-width="1"/><line x1="230.6" y1="579.5" x2="245.6" y2="579.5" stroke="#eee" stroke-width="1" /><line x1="228.1" y1="582.3" x2="248.1" y2="582.3" stroke="#ccc" stroke-width="0.8" /><line x1="226.6" y1="587.5" x2="249.6" y2="587.5" stroke="#bbb" stroke-width="0.8" /><rect x="224.3" y="590.8" width="27.6" height="3" stroke="#555" stroke-width="0.9" fill="#fff" /><path d="M224.3 593.8 H251.9 L255.8 598.5 H220.4 Z" fill="#777" stroke="#444" stroke-width="0.9"/><line x1="227.1" y1="596" x2="249.1" y2="596" stroke="#ccc" stroke-width="0.8" /><rect x="222.8" y="598.6" width="30.6" height="4.4" stroke="#555" stroke-width="0.9" fill="#ddd" rx="2" /><line x1="224.1" y1="600.8" x2="252.1" y2="600.8" stroke="#999" stroke-width="0.8" stroke-dasharray="1,1"/><rect x="217.5" y="605.4" width="41.2" height="12.3" stroke="#555" stroke-width="1" fill="#fff" rx="3" /><line x1="229.1" y1="605.4" x2="229.1" y2="617.7" stroke="#666" stroke-width="0.9" /><line x1="246.8" y1="605.4" x2="246.8" y2="617.7" stroke="#666" stroke-width="0.9" /><circle cx="223.7" cy="611.5" r="4.1" stroke="#3a3a3a" stroke-width="1.35" fill="#fff"/><line x1="220.7" y1="614.5" x2="226.7" y2="608.5" stroke="#333" stroke-width="1.6" /><circle cx="252.2" cy="611.5" r="4.1" stroke="#3a3a3a" stroke-width="1.35" fill="#fff"/><line x1="249.2" y1="614.5" x2="255.2" y2="608.5" stroke="#333" stroke-width="1.6" /><path d="M284 578.1 H301.2 L306.4 590.8 H278.8 Z" fill="#8f8f8f" stroke="#444" stroke-width="1"/><line x1="285.1" y1="579.5" x2="300.1" y2="579.5" stroke="#eee" stroke-width="1" /><line x1="282.6" y1="582.3" x2="302.6" y2="582.3" stroke="#ccc" stroke-width="0.8" /><line x1="281.1" y1="587.5" x2="304.1" y2="587.5" stroke="#bbb" stroke-width="0.8" /><rect x="278.8" y="590.8" width="27.6" height="3" stroke="#555" stroke-width="0.9" fill="#fff" /><path d="M278.8 593.8 H306.4 L310.3 598.5 H274.9 Z" fill="#777" stroke="#444" stroke-width="0.9"/><line x1="281.6" y1="596" x2="303.6" y2="596" stroke="#ccc" stroke-width="0.8" /><rect x="277.3" y="598.6" width="30.6" height="4.4" stroke="#555" stroke-width="0.9" fill="#ddd" rx="2" /><line x1="278.6" y1="600.8" x2="306.6" y2="600.8" stroke="#999" stroke-width="0.8" stroke-dasharray="1,1"/><rect x="272" y="605.4" width="41.2" height="12.3" stroke="#555" stroke-width="1" fill="#fff" rx="3" /><line x1="283.6" y1="605.4" x2="283.6" y2="617.7" stroke="#666" stroke-width="0.9" /><line x1="301.3" y1="605.4" x2="301.3" y2="617.7" stroke="#666" stroke-width="0.9" /><circle cx="278.2" cy="611.5" r="4.1" stroke="#3a3a3a" stroke-width="1.35" fill="#fff"/><line x1="275.2" y1="614.5" x2="281.2" y2="608.5" stroke="#333" stroke-width="1.6" /><circle cx="306.7" cy="611.5" r="4.1" stroke="#3a3a3a" stroke-width="1.35" fill="#fff"/><line x1="303.7" y1="614.5" x2="309.7" y2="608.5" stroke="#333" stroke-width="1.6" /><path d="M338.5 578.1 H355.7 L360.9 590.8 H333.3 Z" fill="#8f8f8f" stroke="#444" stroke-width="1"/><line x1="339.6" y1="579.5" x2="354.6" y2="579.5" stroke="#eee" stroke-width="1" /><line x1="337.1" y1="582.3" x2="357.1" y2="582.3" stroke="#ccc" stroke-width="0.8" /><line x1="335.6" y1="587.5" x2="358.6" y2="587.5" stroke="#bbb" stroke-width="0.8" /><rect x="333.3" y="590.8" width="27.6" height="3" stroke="#555" stroke-width="0.9" fill="#fff" /><path d="M333.3 593.8 H360.9 L364.8 598.5 H329.4 Z" fill="#777" stroke="#444" stroke-width="0.9"/><line x1="336.1" y1="596" x2="358.1" y2="596" stroke="#ccc" stroke-width="0.8" /><rect x="331.8" y="598.6" width="30.6" height="4.4" stroke="#555" stroke-width="0.9" fill="#ddd" rx="2" /><line x1="333.1" y1="600.8" x2="361.1" y2="600.8" stroke="#999" stroke-width="0.8" stroke-dasharray="1,1"/><rect x="326.5" y="605.4" width="41.2" height="12.3" stroke="#555" stroke-width="1" fill="#fff" rx="3" /><line x1="338.1" y1="605.4" x2="338.1" y2="617.7" stroke="#666" stroke-width="0.9" /><line x1="355.8" y1="605.4" x2="355.8" y2="617.7" stroke="#666" stroke-width="0.9" /><circle cx="332.7" cy="611.5" r="4.1" stroke="#3a3a3a" stroke-width="1.35" fill="#fff"/><line x1="329.7" y1="614.5" x2="335.7" y2="608.5" stroke="#333" stroke-width="1.6" /><circle cx="361.2" cy="611.5" r="4.1" stroke="#3a3a3a" stroke-width="1.35" fill="#fff"/><line x1="358.2" y1="614.5" x2="364.2" y2="608.5" stroke="#333" stroke-width="1.6" /><path d="M393 578.1 H410.2 L415.4 590.8 H387.8 Z" fill="#8f8f8f" stroke="#444" stroke-width="1"/><line x1="394.1" y1="579.5" x2="409.1" y2="579.5" stroke="#eee" stroke-width="1" /><line x1="391.6" y1="582.3" x2="411.6" y2="582.3" stroke="#ccc" stroke-width="0.8" /><line x1="390.1" y1="587.5" x2="413.1" y2="587.5" stroke="#bbb" stroke-width="0.8" /><rect x="387.8" y="590.8" width="27.6" height="3" stroke="#555" stroke-width="0.9" fill="#fff" /><path d="M387.8 593.8 H415.4 L419.3 598.5 H383.9 Z" fill="#777" stroke="#444" stroke-width="0.9"/><line x1="390.6" y1="596" x2="412.6" y2="596" stroke="#ccc" stroke-width="0.8" /><rect x="386.3" y="598.6" width="30.6" height="4.4" stroke="#555" stroke-width="0.9" fill="#ddd" rx="2" /><line x1="387.6" y1="600.8" x2="415.6" y2="600.8" stroke="#999" stroke-width="0.8" stroke-dasharray="1,1"/><rect x="381" y="605.4" width="41.2" height="12.3" stroke="#555" stroke-width="1" fill="#fff" rx="3" /><line x1="392.6" y1="605.4" x2="392.6" y2="617.7" stroke="#666" stroke-width="0.9" /><line x1="410.3" y1="605.4" x2="410.3" y2="617.7" stroke="#666" stroke-width="0.9" /><circle cx="387.2" cy="611.5" r="4.1" stroke="#3a3a3a" stroke-width="1.35" fill="#fff"/><line x1="384.2" y1="614.5" x2="390.2" y2="608.5" stroke="#333" stroke-width="1.6" /><circle cx="415.7" cy="611.5" r="4.1" stroke="#3a3a3a" stroke-width="1.35" fill="#fff"/><line x1="412.7" y1="614.5" x2="418.7" y2="608.5" stroke="#333" stroke-width="1.6" /><path d="M447.5 578.1 H464.7 L469.9 590.8 H442.3 Z" fill="#8f8f8f" stroke="#444" stroke-width="1"/><line x1="448.6" y1="579.5" x2="463.6" y2="579.5" stroke="#eee" stroke-width="1" /><line x1="446.1" y1="582.3" x2="466.1" y2="582.3" stroke="#ccc" stroke-width="0.8" /><line x1="444.6" y1="587.5" x2="467.6" y2="587.5" stroke="#bbb" stroke-width="0.8" /><rect x="442.3" y="590.8" width="27.6" height="3" stroke="#555" stroke-width="0.9" fill="#fff" /><path d="M442.3 593.8 H469.9 L473.8 598.5 H438.4 Z" fill="#777" stroke="#444" stroke-width="0.9"/><line x1="445.1" y1="596" x2="467.1" y2="596" stroke="#ccc" stroke-width="0.8" /><rect x="440.8" y="598.6" width="30.6" height="4.4" stroke="#555" stroke-width="0.9" fill="#ddd" rx="2" /><line x1="442.1" y1="600.8" x2="470.1" y2="600.8" stroke="#999" stroke-width="0.8" stroke-dasharray="1,1"/><rect x="435.5" y="605.4" width="41.2" height="12.3" stroke="#555" stroke-width="1" fill="#fff" rx="3" /><line x1="447.1" y1="605.4" x2="447.1" y2="617.7" stroke="#666" stroke-width="0.9" /><line x1="464.8" y1="605.4" x2="464.8" y2="617.7" stroke="#666" stroke-width="0.9" /><circle cx="441.7" cy="611.5" r="4.1" stroke="#3a3a3a" stroke-width="1.35" fill="#fff"/><line x1="438.7" y1="614.5" x2="444.7" y2="608.5" stroke="#333" stroke-width="1.6" /><circle cx="470.2" cy="611.5" r="4.1" stroke="#3a3a3a" stroke-width="1.35" fill="#fff"/><line x1="467.2" y1="614.5" x2="473.2" y2="608.5" stroke="#333" stroke-width="1.6" /><path d="M502 578.1 H519.2 L524.4 590.8 H496.8 Z" fill="#8f8f8f" stroke="#444" stroke-width="1"/><line x1="503.1" y1="579.5" x2="518.1" y2="579.5" stroke="#eee" stroke-width="1" /><line x1="500.6" y1="582.3" x2="520.6" y2="582.3" stroke="#ccc" stroke-width="0.8" /><line x1="499.1" y1="587.5" x2="522.1" y2="587.5" stroke="#bbb" stroke-width="0.8" /><rect x="496.8" y="590.8" width="27.6" height="3" stroke="#555" stroke-width="0.9" fill="#fff" /><path d="M496.8 593.8 H524.4 L528.3 598.5 H492.9 Z" fill="#777" stroke="#444" stroke-width="0.9"/><line x1="499.6" y1="596" x2="521.6" y2="596" stroke="#ccc" stroke-width="0.8" /><rect x="495.3" y="598.6" width="30.6" height="4.4" stroke="#555" stroke-width="0.9" fill="#ddd" rx="2" /><line x1="496.6" y1="600.8" x2="524.6" y2="600.8" stroke="#999" stroke-width="0.8" stroke-dasharray="1,1"/><rect x="490" y="605.4" width="41.2" height="12.3" stroke="#555" stroke-width="1" fill="#fff" rx="3" /><line x1="501.6" y1="605.4" x2="501.6" y2="617.7" stroke="#666" stroke-width="0.9" /><line x1="519.3" y1="605.4" x2="519.3" y2="617.7" stroke="#666" stroke-width="0.9" /><circle cx="496.2" cy="611.5" r="4.1" stroke="#3a3a3a" stroke-width="1.35" fill="#fff"/><line x1="493.2" y1="614.5" x2="499.2" y2="608.5" stroke="#333" stroke-width="1.6" /><circle cx="524.7" cy="611.5" r="4.1" stroke="#3a3a3a" stroke-width="1.35" fill="#fff"/><line x1="521.7" y1="614.5" x2="527.7" y2="608.5" stroke="#333" stroke-width="1.6" /><circle cx="183.9" cy="544.2" r="3.6" stroke="#3a3a3a" stroke-width="1.35" fill="#fff"/><line x1="181.3" y1="546.8" x2="186.5" y2="541.6" stroke="#333" stroke-width="1.6" /><circle cx="183.9" cy="544.2" r="2" stroke="#666" stroke-width="0.8" fill="none"/><text x="361.5" y="189.6" font-size="15" text-anchor="middle" fill="#444" >3</text><line x1="362.8" y1="193.9" x2="342" y2="240" stroke="#555" stroke-width="0.9" /><text x="404.6" y="190.8" font-size="15" text-anchor="middle" fill="#444" >4</text><line x1="401.5" y1="193.9" x2="369.5" y2="251.2" stroke="#555" stroke-width="0.9" /><polygon points="369.5,251.2 371.3,244.2 374.5,246" fill="#444"/><text x="472" y="188.4" font-size="15" text-anchor="middle" fill="#444" >7</text><line x1="462.5" y1="194.5" x2="428.6" y2="256.1" stroke="#555" stroke-width="0.9" /><polygon points="428.6,256.1 430.4,249.1 433.6,250.8" fill="#444"/><text x="121" y="282" font-size="14" text-anchor="middle" fill="#444" >1</text><line x1="133.9" y1="276.1" x2="190" y2="301.5" stroke="#555" stroke-width="0.9" /><polygon points="190,301.5 182.9,300.3 184.4,297" fill="#444"/><text x="116.3" y="417" font-size="14" text-anchor="middle" fill="#444" >2</text><line x1="133.9" y1="413.1" x2="206.3" y2="439.2" stroke="#555" stroke-width="0.9" /><polygon points="206.3,439.2 199.1,438.5 200.3,435.1" fill="#444"/><text x="559" y="376.5" font-size="14.5" text-anchor="start" fill="#444" >Terminal Strip</text><line x1="551.7" y1="372.3" x2="467.5" y2="400.1" stroke="#555" stroke-width="0.9" /><polygon points="467.5,400.1 473.6,396.2 474.7,399.6" fill="#444"/><text x="574" y="423" font-size="14.5" text-anchor="middle" fill="#444" >5</text><path d="M560 418.5 Q470 440 348 489" stroke="#555" stroke-width="0.9" fill="none"/><text x="575.5" y="465.5" font-size="14.5" text-anchor="middle" fill="#444" >6</text><path d="M560 461 Q470 476 363 494" stroke="#555" stroke-width="0.9" fill="none"/></svg>
<svg width="1300" height="1762" viewBox="0 0 1300 1762" style="position:absolute;left:0;top:0" font-family="Liberation Sans, sans-serif"><circle cx="954.1" cy="925" r="70.3" stroke="#666" stroke-width="1" fill="#fefefe"/><circle cx="954" cy="925.8" r="33.2" stroke="#666" stroke-width="1" fill="none"/><rect x="895.5" y="957.7" width="114.8" height="36.5" stroke="#666" stroke-width="1" fill="#fefefe" /><rect x="882.4" y="994.2" width="141" height="5.1" stroke="#666" stroke-width="1" fill="#fefefe" /><path d="M901.4 956 V978 A17.15 17 0 0 0 935.7 978 V956" fill="#fefefe" stroke="#555" stroke-width="1.1"/><path d="M904.5 959 V978 A14 14 0 0 0 932.5 978 V959" fill="none" stroke="#777" stroke-width="0.9"/><rect x="900.5" y="954.5" width="36" height="3" stroke="#555" stroke-width="1" fill="#fefefe" /><path d="M970.8 957 V978 A15.7 15.5 0 0 0 1002.2 978 V957" fill="#fefefe" stroke="#666" stroke-width="1"/><rect x="970" y="954.8" width="33" height="3" stroke="#666" stroke-width="1" fill="#fefefe" /><rect x="840.4" y="718.2" width="48.3" height="4.2" stroke="#666" stroke-width="1" fill="#fefefe" rx="1.5" /><rect x="832.7" y="722.1" width="62.8" height="5.7" stroke="#666" stroke-width="1" fill="#fefefe" rx="2" /><rect x="834.2" y="727.8" width="60.2" height="152.7" stroke="#666" stroke-width="1" fill="#fefefe" /><rect x="832.7" y="880.5" width="62.8" height="5.7" stroke="#666" stroke-width="1" fill="#fefefe" rx="2" /><rect x="839.9" y="886.2" width="48.2" height="4.6" stroke="#666" stroke-width="1" fill="#fefefe" rx="1.5" /><polygon points="837,732.5 857.5,732.5 857.5,735.8 849,737.5 844,742.5 843.5,748.7 837,748.7" fill="#858585"/><polygon points="891.7,732.5 871.2,732.5 871.2,735.8 879.7,737.5 884.7,742.5 885.2,748.7 891.7,748.7" fill="#858585"/><polygon points="837,877 857.5,877 857.5,873.7 849,872 844,867 843.5,860.8 837,860.8" fill="#858585"/><polygon points="891.7,877 871.2,877 871.2,873.7 879.7,872 884.7,867 885.2,860.8 891.7,860.8" fill="#858585"/><ellipse cx="853" cy="894" rx="5.2" ry="3.6" stroke="#555" stroke-width="1" fill="#fefefe"/><ellipse cx="863.5" cy="894" rx="5.2" ry="3.6" stroke="#555" stroke-width="1" fill="#fefefe"/><ellipse cx="874" cy="894" rx="5.2" ry="3.6" stroke="#555" stroke-width="1" fill="#fefefe"/><rect x="849" y="898" width="30" height="5" stroke="#444" stroke-width="0.8" fill="#6a6a6a" /><ellipse cx="853" cy="906.5" rx="5.2" ry="3.6" stroke="#555" stroke-width="1" fill="#fefefe"/><ellipse cx="863.5" cy="906.5" rx="5.2" ry="3.6" stroke="#555" stroke-width="1" fill="#fefefe"/><ellipse cx="874" cy="906.5" rx="5.2" ry="3.6" stroke="#555" stroke-width="1" fill="#fefefe"/><path d="M851 910.5 Q845 925 851 940.8 H877 Q883 925 877 910.5 Z" fill="#fefefe" stroke="#666" stroke-width="1"/><rect x="849" y="940.8" width="30" height="5.9" stroke="#555" stroke-width="1" fill="#aaa" /><rect x="853.9" y="946.7" width="19" height="29.2" stroke="#666" stroke-width="1" fill="#fefefe" /><rect x="869" y="950" width="3" height="24" stroke="#555" stroke-width="0.6" fill="#888" /><polygon points="860,960 852.8,959.4 854,956" fill="#444"/><rect x="852" y="975.9" width="24" height="2.5" stroke="#555" stroke-width="0.8" fill="#999" /><rect x="846.6" y="978.1" width="32.1" height="6.6" stroke="#444" stroke-width="1" fill="#8a8a8a" /><ellipse cx="851" cy="981.4" rx="2.6" ry="2.2" stroke="#555" stroke-width="0.7" fill="#ccc"/><ellipse cx="857" cy="981.4" rx="2.6" ry="2.2" stroke="#555" stroke-width="0.7" fill="#ccc"/><ellipse cx="863" cy="981.4" rx="2.6" ry="2.2" stroke="#555" stroke-width="0.7" fill="#ccc"/><ellipse cx="869" cy="981.4" rx="2.6" ry="2.2" stroke="#555" stroke-width="0.7" fill="#ccc"/><ellipse cx="875" cy="981.4" rx="2.6" ry="2.2" stroke="#555" stroke-width="0.7" fill="#ccc"/><rect x="879.5" y="910.2" width="22.6" height="32.1" stroke="#666" stroke-width="1" fill="#fefefe" /><rect x="883.8" y="912" width="6.6" height="28" fill="#8a8a8a"/><ellipse cx="879" cy="918" rx="3.2" ry="5.5" stroke="#666" stroke-width="1" fill="#fefefe"/><ellipse cx="879" cy="934" rx="3.2" ry="5.5" stroke="#666" stroke-width="1" fill="#fefefe"/><rect x="912" y="826" width="14.7" height="29" stroke="#666" stroke-width="1" fill="#fefefe" /><line x1="925" y1="829" x2="925" y2="853" stroke="#777" stroke-width="1.6" /><rect x="913" y="822.5" width="12.5" height="4" stroke="#666" stroke-width="0.8" fill="#ccc" rx="1.5" /><ellipse cx="907" cy="857" rx="5.3" ry="3" stroke="#555" stroke-width="1" fill="#fefefe"/><ellipse cx="918.5" cy="857" rx="5.3" ry="3" stroke="#555" stroke-width="1" fill="#fefefe"/><ellipse cx="930" cy="857" rx="5.3" ry="3" stroke="#555" stroke-width="1" fill="#fefefe"/><rect x="902.5" y="859" width="33.5" height="3.5" stroke="#444" stroke-width="0.8" fill="#8a8a8a" /><path d="M905 862.5 Q898 876 906 890.4 H932 Q940 876 932 862.5 Z" fill="#fefefe" stroke="#555" stroke-width="1"/><circle cx="918.5" cy="876" r="13" stroke="#555" stroke-width="1" fill="none"/><circle cx="918.5" cy="876" r="10.5" stroke="#777" stroke-width="0.9" fill="none"/><rect x="911.6" y="880.2" width="13.2" height="26.3" stroke="#555" stroke-width="1" fill="#fefefe" /><path d="M911.6 881 Q918 876 924.8 881" stroke="#555" stroke-width="2" fill="none"/><ellipse cx="907" cy="894.5" rx="5" ry="3.6" stroke="#555" stroke-width="1" fill="#fefefe"/><ellipse cx="930" cy="894.5" rx="5" ry="3.6" stroke="#555" stroke-width="1" fill="#fefefe"/><rect x="902.5" y="898.5" width="9" height="3.6" stroke="#444" stroke-width="0.6" fill="#6a6a6a" /><rect x="925" y="898.5" width="11" height="3.6" stroke="#444" stroke-width="0.6" fill="#6a6a6a" /><ellipse cx="907" cy="905.5" rx="5" ry="3" stroke="#555" stroke-width="1" fill="#fefefe"/><ellipse cx="918.5" cy="905.5" rx="5" ry="3" stroke="#555" stroke-width="1" fill="#fefefe"/><ellipse cx="930" cy="905.5" rx="5" ry="3" stroke="#555" stroke-width="1" fill="#fefefe"/><rect x="902.5" y="906" width="33.5" height="3" stroke="#444" stroke-width="0.8" fill="#8a8a8a" /><path d="M905 909 Q898 927 905 945.2 H933 Q940 927 933 909 Z" fill="#fefefe" stroke="#444" stroke-width="1.2"/><circle cx="918.2" cy="928.4" r="15.4" stroke="#444" stroke-width="1.2" fill="none"/><circle cx="918.2" cy="928.4" r="12.2" stroke="#666" stroke-width="1" fill="none"/><circle cx="918.2" cy="928.4" r="10.2" stroke="#777" stroke-width="0.9" fill="none"/><ellipse cx="907" cy="948" rx="5.3" ry="3.3" stroke="#555" stroke-width="1" fill="#fefefe"/><ellipse cx="918.5" cy="948" rx="5.3" ry="3.3" stroke="#555" stroke-width="1" fill="#fefefe"/><ellipse cx="930" cy="948" rx="5.3" ry="3.3" stroke="#555" stroke-width="1" fill="#fefefe"/><rect x="903" y="950.5" width="32" height="5" stroke="#444" stroke-width="0.6" fill="#666" /><path d="M880 864 Q864 893 857 945" stroke="#555" stroke-width="0.9" fill="none"/><path d="M882 910 Q873 932 870.5 975" stroke="#555" stroke-width="0.9" fill="none"/><path d="M882.6 864 Q866.6 893 859.6 945" stroke="#555" stroke-width="0.9" fill="none"/><path d="M884.6 910 Q875.6 932 873.1 975" stroke="#555" stroke-width="0.9" fill="none"/><path d="M879.5 869 Q888 851 908.7 850.5" stroke="#666" stroke-width="1" fill="none"/><path d="M877 866 Q886 847 908.7 847" stroke="#666" stroke-width="1" fill="none"/><path d="M883.8 907 Q890 901 902.8 902.8" stroke="#666" stroke-width="1" fill="none"/><path d="M881 905 Q889 897 902.8 899.5" stroke="#666" stroke-width="1" fill="none"/><polygon points="878,858.5 890.3,858.5 890.3,875.5 884,872 879,866" fill="#8a8a8a"/><text x="768.5" y="720.4" font-size="13.5" text-anchor="middle" fill="#444" >1</text><line x1="779.2" y1="713.5" x2="834.6" y2="738.8" stroke="#555" stroke-width="0.9" /><polygon points="834.6,738.8 827.5,737.5 829,734.3" fill="#444"/><text x="768.5" y="771.2" font-size="13.5" text-anchor="middle" fill="#444" >2</text><line x1="779.2" y1="766.9" x2="912" y2="826.5" stroke="#555" stroke-width="0.9" /><polygon points="912,826.5 904.9,825.3 906.4,822" fill="#444"/><text x="768.5" y="820" font-size="13.5" text-anchor="middle" fill="#444" >2</text><line x1="779.2" y1="815.4" x2="906" y2="876" stroke="#555" stroke-width="0.9" /><polygon points="906,876 898.9,874.6 900.5,871.4" fill="#444"/><text x="1097.4" y="856.6" font-size="13.5" text-anchor="middle" fill="#444" >3</text><line x1="1087.9" y1="850.2" x2="1003.1" y2="869.8" stroke="#555" stroke-width="0.9" /><polygon points="1003.1,869.8 1009.5,866.5 1010.3,870" fill="#444"/><text x="767.3" y="933.2" font-size="13.5" text-anchor="middle" fill="#444" >4</text><line x1="776.3" y1="930.5" x2="860" y2="960" stroke="#555" stroke-width="0.9" /><text x="814.2" y="1024.6" font-size="13.5" text-anchor="middle" fill="#333" font-weight="bold">5</text><line x1="822" y1="1014.9" x2="859.4" y2="988.6" stroke="#555" stroke-width="0.9" /><polygon points="859.4,988.6 854.7,994.1 852.6,991.2" fill="#444"/><text x="874.6" y="1051" font-size="15.2" text-anchor="start" fill="#3a3a3a" textLength="70.6" lengthAdjust="spacingAndGlyphs" stroke="#3a3a3a" stroke-width="0.3">Exhaust Port</text><path d="M952.2 1042.6 H964.6 Q969 1040 971 1020 L979.9 967.8" stroke="#555" stroke-width="0.9" fill="none"/><polygon points="979.9,967.8 980.6,975 977.1,974.4" fill="#444"/></svg>
<svg width="1300" height="1762" viewBox="0 0 1300 1762" style="position:absolute;left:0;top:0" font-family="Liberation Sans, sans-serif"><path d="M102.4 1346.3 H130.4 V1428.2 H102.4 V1417 L109.8 1408 V1366 L102.4 1357 Z" fill="#fefefe" stroke="#666" stroke-width="1"/><circle cx="120.8" cy="1358.1" r="6.6" stroke="#666" stroke-width="1" fill="none"/><circle cx="120.8" cy="1386.9" r="6.6" stroke="#666" stroke-width="1" fill="none"/><circle cx="120.8" cy="1415.7" r="6.6" stroke="#666" stroke-width="1" fill="none"/><rect x="130.4" y="1346.3" width="13.3" height="81.9" stroke="#666" stroke-width="1" fill="#fefefe" /><rect x="132.5" y="1342" width="7.5" height="4.3" stroke="#666" stroke-width="0.9" fill="#fefefe" /><rect x="132.5" y="1428.2" width="7.5" height="11" stroke="#666" stroke-width="0.9" fill="#fefefe" /><rect x="144.1" y="1315.3" width="52.4" height="145.4" stroke="#666" stroke-width="1" fill="#fefefe" /><line x1="144.1" y1="1332.3" x2="196.5" y2="1332.3" stroke="#777" stroke-width="1" /><line x1="144.1" y1="1443.7" x2="196.5" y2="1443.7" stroke="#777" stroke-width="1" /><rect x="167.3" y="1270.3" width="26.6" height="39.1" stroke="#666" stroke-width="1" fill="#fefefe" /><rect x="167.3" y="1270.3" width="26.6" height="5.2" fill="#8c8c8c" stroke="#666" stroke-width="0.8"/><rect x="166.5" y="1309.4" width="28" height="5.9" fill="#b0b0b0" stroke="#555" stroke-width="0.9"/><ellipse cx="170" cy="1312.4" rx="2.8" ry="2.2" stroke="#666" stroke-width="0.6" fill="#eee"/><ellipse cx="177" cy="1312.4" rx="2.8" ry="2.2" stroke="#666" stroke-width="0.6" fill="#eee"/><ellipse cx="184" cy="1312.4" rx="2.8" ry="2.2" stroke="#666" stroke-width="0.6" fill="#eee"/><ellipse cx="191" cy="1312.4" rx="2.8" ry="2.2" stroke="#666" stroke-width="0.6" fill="#eee"/><rect x="193.9" y="1281.4" width="11" height="7.4" stroke="#666" stroke-width="0.9" fill="#fefefe" /><line x1="193.9" y1="1301.3" x2="205" y2="1301.3" stroke="#555" stroke-width="1.2" /><rect x="167.3" y="1466.6" width="26.6" height="39.9" stroke="#666" stroke-width="1" fill="#fefefe" /><rect x="167.3" y="1500" width="26.6" height="6.5" fill="#8c8c8c" stroke="#666" stroke-width="0.8"/><rect x="166.5" y="1460.7" width="28" height="5.9" fill="#b0b0b0" stroke="#555" stroke-width="0.9"/><ellipse cx="170" cy="1463.7" rx="2.8" ry="2.2" stroke="#666" stroke-width="0.6" fill="#eee"/><ellipse cx="177" cy="1463.7" rx="2.8" ry="2.2" stroke="#666" stroke-width="0.6" fill="#eee"/><ellipse cx="184" cy="1463.7" rx="2.8" ry="2.2" stroke="#666" stroke-width="0.6" fill="#eee"/><ellipse cx="191" cy="1463.7" rx="2.8" ry="2.2" stroke="#666" stroke-width="0.6" fill="#eee"/><rect x="193.9" y="1489" width="11" height="7.4" stroke="#666" stroke-width="0.9" fill="#fefefe" /><line x1="193.9" y1="1474.5" x2="205" y2="1474.5" stroke="#555" stroke-width="1.2" /><rect x="234.5" y="1346.3" width="363.8" height="82.2" stroke="#666" stroke-width="1" fill="#fefefe" /><text x="240.5" y="1362" font-size="9.5" text-anchor="middle" fill="#333" transform="rotate(90 240.5 1362)">5</text><text x="240.5" y="1387" font-size="9.5" text-anchor="middle" fill="#333" transform="rotate(90 240.5 1387)">1</text><text x="240.5" y="1414" font-size="9.5" text-anchor="middle" fill="#333" transform="rotate(90 240.5 1414)">3</text><circle cx="262" cy="1350.5" r="1.2" stroke="#666" stroke-width="0.7" fill="none"/><circle cx="262" cy="1424" r="1.2" stroke="#666" stroke-width="0.7" fill="none"/><rect x="207.2" y="1352.2" width="16.2" height="14.8" stroke="#666" stroke-width="1" fill="#fefefe" /><rect x="207.2" y="1403.9" width="16.2" height="15.5" stroke="#666" stroke-width="1" fill="#fefefe" /><rect x="230" y="1349" width="4.5" height="21" fill="#777"/><circle cx="228.6" cy="1352.5" r="3.6" stroke="#555" stroke-width="1" fill="#fefefe"/><circle cx="228.6" cy="1359.5" r="3.6" stroke="#555" stroke-width="1" fill="#fefefe"/><circle cx="228.6" cy="1366.5" r="3.6" stroke="#555" stroke-width="1" fill="#fefefe"/><rect x="230" y="1400.5" width="4.5" height="21" fill="#777"/><circle cx="228.6" cy="1404" r="3.6" stroke="#555" stroke-width="1" fill="#fefefe"/><circle cx="228.6" cy="1411" r="3.6" stroke="#555" stroke-width="1" fill="#fefefe"/><circle cx="228.6" cy="1418" r="3.6" stroke="#555" stroke-width="1" fill="#fefefe"/><rect x="225" y="1378" width="9" height="15" stroke="#666" stroke-width="1" fill="#fefefe" /><circle cx="221.2" cy="1385.4" r="7" stroke="#555" stroke-width="1.2" fill="#fefefe"/><circle cx="221.2" cy="1385.4" r="4.5" stroke="#666" stroke-width="1" fill="#fefefe"/><rect x="267" y="1269.6" width="27.4" height="39.8" stroke="#666" stroke-width="1" fill="#fefefe" /><rect x="267" y="1269.6" width="27.4" height="5.2" fill="#8c8c8c" stroke="#666" stroke-width="0.8"/><line x1="274.2" y1="1281.6" x2="274.2" y2="1288.6" stroke="#444" stroke-width="1.6" /><line x1="287.2" y1="1281.6" x2="287.2" y2="1288.6" stroke="#444" stroke-width="1.6" /><rect x="279.3" y="1290.6" width="2.8" height="2.8" stroke="#555" stroke-width="0.8" fill="none" /><line x1="277.7" y1="1301.1" x2="283.7" y2="1301.1" stroke="#444" stroke-width="1.6" /><rect x="265.5" y="1309.4" width="30.4" height="5.2" fill="#b0b0b0" stroke="#555" stroke-width="0.9"/><ellipse cx="269.3" cy="1312" rx="3" ry="1.8" stroke="#666" stroke-width="0.6" fill="#eee"/><ellipse cx="276.9" cy="1312" rx="3" ry="1.8" stroke="#666" stroke-width="0.6" fill="#eee"/><ellipse cx="284.5" cy="1312" rx="3" ry="1.8" stroke="#666" stroke-width="0.6" fill="#eee"/><ellipse cx="292.1" cy="1312" rx="3" ry="1.8" stroke="#666" stroke-width="0.6" fill="#eee"/><rect x="265.5" y="1314.6" width="30.4" height="17" stroke="#666" stroke-width="1" fill="#fefefe" /><path d="M274.7 1314.6 V1322.6 A6 6 0 0 0 286.7 1322.6 V1314.6" fill="none" stroke="#555" stroke-width="1"/><circle cx="280.7" cy="1322.6" r="4.3" stroke="#666" stroke-width="0.9" fill="none"/><circle cx="269" cy="1323.1" r="1" stroke="#666" stroke-width="0.6" fill="none"/><rect x="265.5" y="1331.6" width="30.4" height="111.4" stroke="#666" stroke-width="1" fill="#fefefe" /><text x="288.4" y="1342.5" font-size="8.5" text-anchor="middle" fill="#333" transform="rotate(90 288.4 1342.5)">14</text><text x="287.9" y="1411.5" font-size="9.5" text-anchor="middle" fill="#333" transform="rotate(90 287.9 1411.5)">2</text><text x="288.4" y="1432" font-size="8.5" text-anchor="middle" fill="#333" transform="rotate(90 288.4 1432)">12</text><circle cx="269.5" cy="1347" r="1.1" stroke="#555" stroke-width="0.7" fill="none"/><circle cx="269.5" cy="1428" r="1.1" stroke="#555" stroke-width="0.7" fill="none"/><rect x="265.5" y="1443" width="30.4" height="18.4" stroke="#666" stroke-width="1" fill="#fefefe" /><path d="M274.7 1461.4 V1453.4 A6 6 0 0 1 286.7 1453.4 V1461.4" fill="none" stroke="#555" stroke-width="1"/><circle cx="280.7" cy="1453.4" r="4.3" stroke="#666" stroke-width="0.9" fill="none"/><circle cx="269" cy="1452.2" r="1" stroke="#666" stroke-width="0.6" fill="none"/><rect x="265.5" y="1461.4" width="30.4" height="4.5" fill="#b0b0b0" stroke="#555" stroke-width="0.9"/><ellipse cx="269.3" cy="1463.7" rx="3" ry="1.4" stroke="#666" stroke-width="0.6" fill="#eee"/><ellipse cx="276.9" cy="1463.7" rx="3" ry="1.4" stroke="#666" stroke-width="0.6" fill="#eee"/><ellipse cx="284.5" cy="1463.7" rx="3" ry="1.4" stroke="#666" stroke-width="0.6" fill="#eee"/><ellipse cx="292.1" cy="1463.7" rx="3" ry="1.4" stroke="#666" stroke-width="0.6" fill="#eee"/><rect x="267" y="1465.9" width="27.4" height="39.8" stroke="#666" stroke-width="1" fill="#fefefe" /><rect x="267" y="1499.5" width="27.4" height="6.2" fill="#8c8c8c" stroke="#666" stroke-width="0.8"/><line x1="277.7" y1="1474.9" x2="283.7" y2="1474.9" stroke="#444" stroke-width="1.6" /><circle cx="280.7" cy="1481.9" r="1.4" stroke="#555" stroke-width="0.8" fill="none"/><line x1="274.2" y1="1485.9" x2="274.2" y2="1492.9" stroke="#444" stroke-width="1.6" /><line x1="287.2" y1="1485.9" x2="287.2" y2="1492.9" stroke="#444" stroke-width="1.6" /><rect x="297.4" y="1269.6" width="27.4" height="39.8" stroke="#666" stroke-width="1" fill="#fefefe" /><rect x="297.4" y="1269.6" width="27.4" height="5.2" fill="#8c8c8c" stroke="#666" stroke-width="0.8"/><line x1="304.7" y1="1281.6" x2="304.7" y2="1288.6" stroke="#444" stroke-width="1.6" /><line x1="317.7" y1="1281.6" x2="317.7" y2="1288.6" stroke="#444" stroke-width="1.6" /><rect x="309.8" y="1290.6" width="2.8" height="2.8" stroke="#555" stroke-width="0.8" fill="none" /><line x1="308.2" y1="1301.1" x2="314.2" y2="1301.1" stroke="#444" stroke-width="1.6" /><rect x="295.9" y="1309.4" width="30.4" height="5.2" fill="#b0b0b0" stroke="#555" stroke-width="0.9"/><ellipse cx="299.8" cy="1312" rx="3" ry="1.8" stroke="#666" stroke-width="0.6" fill="#eee"/><ellipse cx="307.4" cy="1312" rx="3" ry="1.8" stroke="#666" stroke-width="0.6" fill="#eee"/><ellipse cx="315" cy="1312" rx="3" ry="1.8" stroke="#666" stroke-width="0.6" fill="#eee"/><ellipse cx="322.6" cy="1312" rx="3" ry="1.8" stroke="#666" stroke-width="0.6" fill="#eee"/><rect x="295.9" y="1314.6" width="30.4" height="17" stroke="#666" stroke-width="1" fill="#fefefe" /><path d="M305.2 1314.6 V1322.6 A6 6 0 0 0 317.2 1322.6 V1314.6" fill="none" stroke="#555" stroke-width="1"/><circle cx="311.2" cy="1322.6" r="4.3" stroke="#666" stroke-width="0.9" fill="none"/><circle cx="299.4" cy="1323.1" r="1" stroke="#666" stroke-width="0.6" fill="none"/><rect x="295.9" y="1331.6" width="30.4" height="111.4" stroke="#666" stroke-width="1" fill="#fefefe" /><text x="318.9" y="1342.5" font-size="8.5" text-anchor="middle" fill="#333" transform="rotate(90 318.9 1342.5)">14</text><text x="318.4" y="1411.5" font-size="9.5" text-anchor="middle" fill="#333" transform="rotate(90 318.4 1411.5)">2</text><text x="318.9" y="1432" font-size="8.5" text-anchor="middle" fill="#333" transform="rotate(90 318.9 1432)">12</text><circle cx="299.9" cy="1347" r="1.1" stroke="#555" stroke-width="0.7" fill="none"/><circle cx="299.9" cy="1428" r="1.1" stroke="#555" stroke-width="0.7" fill="none"/><rect x="295.9" y="1443" width="30.4" height="18.4" stroke="#666" stroke-width="1" fill="#fefefe" /><path d="M305.2 1461.4 V1453.4 A6 6 0 0 1 317.2 1453.4 V1461.4" fill="none" stroke="#555" stroke-width="1"/><circle cx="311.2" cy="1453.4" r="4.3" stroke="#666" stroke-width="0.9" fill="none"/><circle cx="299.4" cy="1452.2" r="1" stroke="#666" stroke-width="0.6" fill="none"/><rect x="295.9" y="1461.4" width="30.4" height="4.5" fill="#b0b0b0" stroke="#555" stroke-width="0.9"/><ellipse cx="299.8" cy="1463.7" rx="3" ry="1.4" stroke="#666" stroke-width="0.6" fill="#eee"/><ellipse cx="307.4" cy="1463.7" rx="3" ry="1.4" stroke="#666" stroke-width="0.6" fill="#eee"/><ellipse cx="315" cy="1463.7" rx="3" ry="1.4" stroke="#666" stroke-width="0.6" fill="#eee"/><ellipse cx="322.6" cy="1463.7" rx="3" ry="1.4" stroke="#666" stroke-width="0.6" fill="#eee"/><rect x="297.4" y="1465.9" width="27.4" height="39.8" stroke="#666" stroke-width="1" fill="#fefefe" /><rect x="297.4" y="1499.5" width="27.4" height="6.2" fill="#8c8c8c" stroke="#666" stroke-width="0.8"/><line x1="308.2" y1="1474.9" x2="314.2" y2="1474.9" stroke="#444" stroke-width="1.6" /><circle cx="311.2" cy="1481.9" r="1.4" stroke="#555" stroke-width="0.8" fill="none"/><line x1="304.7" y1="1485.9" x2="304.7" y2="1492.9" stroke="#444" stroke-width="1.6" /><line x1="317.7" y1="1485.9" x2="317.7" y2="1492.9" stroke="#444" stroke-width="1.6" /><rect x="327.9" y="1269.6" width="27.4" height="39.8" stroke="#666" stroke-width="1" fill="#fefefe" /><rect x="327.9" y="1269.6" width="27.4" height="5.2" fill="#8c8c8c" stroke="#666" stroke-width="0.8"/><line x1="335.1" y1="1281.6" x2="335.1" y2="1288.6" stroke="#444" stroke-width="1.6" /><line x1="348.1" y1="1281.6" x2="348.1" y2="1288.6" stroke="#444" stroke-width="1.6" /><rect x="340.2" y="1290.6" width="2.8" height="2.8" stroke="#555" stroke-width="0.8" fill="none" /><line x1="338.6" y1="1301.1" x2="344.6" y2="1301.1" stroke="#444" stroke-width="1.6" /><rect x="326.4" y="1309.4" width="30.4" height="5.2" fill="#b0b0b0" stroke="#555" stroke-width="0.9"/><ellipse cx="330.2" cy="1312" rx="3" ry="1.8" stroke="#666" stroke-width="0.6" fill="#eee"/><ellipse cx="337.8" cy="1312" rx="3" ry="1.8" stroke="#666" stroke-width="0.6" fill="#eee"/><ellipse cx="345.4" cy="1312" rx="3" ry="1.8" stroke="#666" stroke-width="0.6" fill="#eee"/><ellipse cx="353" cy="1312" rx="3" ry="1.8" stroke="#666" stroke-width="0.6" fill="#eee"/><rect x="326.4" y="1314.6" width="30.4" height="17" stroke="#666" stroke-width="1" fill="#fefefe" /><path d="M335.6 1314.6 V1322.6 A6 6 0 0 0 347.6 1322.6 V1314.6" fill="none" stroke="#555" stroke-width="1"/><circle cx="341.6" cy="1322.6" r="4.3" stroke="#666" stroke-width="0.9" fill="none"/><circle cx="329.9" cy="1323.1" r="1" stroke="#666" stroke-width="0.6" fill="none"/><rect x="326.4" y="1331.6" width="30.4" height="111.4" stroke="#666" stroke-width="1" fill="#fefefe" /><text x="349.3" y="1342.5" font-size="8.5" text-anchor="middle" fill="#333" transform="rotate(90 349.3 1342.5)">14</text><text x="348.8" y="1411.5" font-size="9.5" text-anchor="middle" fill="#333" transform="rotate(90 348.8 1411.5)">2</text><text x="349.3" y="1432" font-size="8.5" text-anchor="middle" fill="#333" transform="rotate(90 349.3 1432)">12</text><circle cx="330.4" cy="1347" r="1.1" stroke="#555" stroke-width="0.7" fill="none"/><circle cx="330.4" cy="1428" r="1.1" stroke="#555" stroke-width="0.7" fill="none"/><rect x="358.4" y="1269.6" width="27.4" height="39.8" stroke="#666" stroke-width="1" fill="#fefefe" /><rect x="358.4" y="1269.6" width="27.4" height="5.2" fill="#8c8c8c" stroke="#666" stroke-width="0.8"/><line x1="365.6" y1="1281.6" x2="365.6" y2="1288.6" stroke="#444" stroke-width="1.6" /><line x1="378.6" y1="1281.6" x2="378.6" y2="1288.6" stroke="#444" stroke-width="1.6" /><rect x="370.7" y="1290.6" width="2.8" height="2.8" stroke="#555" stroke-width="0.8" fill="none" /><line x1="369.1" y1="1301.1" x2="375.1" y2="1301.1" stroke="#444" stroke-width="1.6" /><rect x="356.9" y="1309.4" width="30.4" height="5.2" fill="#b0b0b0" stroke="#555" stroke-width="0.9"/><ellipse cx="360.7" cy="1312" rx="3" ry="1.8" stroke="#666" stroke-width="0.6" fill="#eee"/><ellipse cx="368.3" cy="1312" rx="3" ry="1.8" stroke="#666" stroke-width="0.6" fill="#eee"/><ellipse cx="375.9" cy="1312" rx="3" ry="1.8" stroke="#666" stroke-width="0.6" fill="#eee"/><ellipse cx="383.5" cy="1312" rx="3" ry="1.8" stroke="#666" stroke-width="0.6" fill="#eee"/><rect x="356.9" y="1314.6" width="30.4" height="17" stroke="#666" stroke-width="1" fill="#fefefe" /><path d="M366.1 1314.6 V1322.6 A6 6 0 0 0 378.1 1322.6 V1314.6" fill="none" stroke="#555" stroke-width="1"/><circle cx="372.1" cy="1322.6" r="4.3" stroke="#666" stroke-width="0.9" fill="none"/><circle cx="360.4" cy="1323.1" r="1" stroke="#666" stroke-width="0.6" fill="none"/><rect x="356.9" y="1331.6" width="30.4" height="111.4" stroke="#666" stroke-width="1" fill="#fefefe" /><text x="379.8" y="1342.5" font-size="8.5" text-anchor="middle" fill="#333" transform="rotate(90 379.8 1342.5)">14</text><text x="379.3" y="1411.5" font-size="9.5" text-anchor="middle" fill="#333" transform="rotate(90 379.3 1411.5)">2</text><text x="379.8" y="1432" font-size="8.5" text-anchor="middle" fill="#333" transform="rotate(90 379.8 1432)">12</text><circle cx="360.9" cy="1347" r="1.1" stroke="#555" stroke-width="0.7" fill="none"/><circle cx="360.9" cy="1428" r="1.1" stroke="#555" stroke-width="0.7" fill="none"/><rect x="388.8" y="1269.6" width="27.4" height="39.8" stroke="#666" stroke-width="1" fill="#fefefe" /><rect x="388.8" y="1269.6" width="27.4" height="5.2" fill="#8c8c8c" stroke="#666" stroke-width="0.8"/><line x1="396" y1="1281.6" x2="396" y2="1288.6" stroke="#444" stroke-width="1.6" /><line x1="409" y1="1281.6" x2="409" y2="1288.6" stroke="#444" stroke-width="1.6" /><rect x="401.1" y="1290.6" width="2.8" height="2.8" stroke="#555" stroke-width="0.8" fill="none" /><line x1="399.5" y1="1301.1" x2="405.5" y2="1301.1" stroke="#444" stroke-width="1.6" /><rect x="387.3" y="1309.4" width="30.4" height="5.2" fill="#b0b0b0" stroke="#555" stroke-width="0.9"/><ellipse cx="391.1" cy="1312" rx="3" ry="1.8" stroke="#666" stroke-width="0.6" fill="#eee"/><ellipse cx="398.7" cy="1312" rx="3" ry="1.8" stroke="#666" stroke-width="0.6" fill="#eee"/><ellipse cx="406.3" cy="1312" rx="3" ry="1.8" stroke="#666" stroke-width="0.6" fill="#eee"/><ellipse cx="413.9" cy="1312" rx="3" ry="1.8" stroke="#666" stroke-width="0.6" fill="#eee"/><rect x="387.3" y="1314.6" width="30.4" height="17" stroke="#666" stroke-width="1" fill="#fefefe" /><path d="M396.5 1314.6 V1322.6 A6 6 0 0 0 408.5 1322.6 V1314.6" fill="none" stroke="#555" stroke-width="1"/><circle cx="402.5" cy="1322.6" r="4.3" stroke="#666" stroke-width="0.9" fill="none"/><circle cx="390.8" cy="1323.1" r="1" stroke="#666" stroke-width="0.6" fill="none"/><rect x="387.3" y="1331.6" width="30.4" height="111.4" stroke="#666" stroke-width="1" fill="#fefefe" /><text x="410.2" y="1342.5" font-size="8.5" text-anchor="middle" fill="#333" transform="rotate(90 410.2 1342.5)">14</text><text x="409.8" y="1411.5" font-size="9.5" text-anchor="middle" fill="#333" transform="rotate(90 409.8 1411.5)">2</text><text x="410.2" y="1432" font-size="8.5" text-anchor="middle" fill="#333" transform="rotate(90 410.2 1432)">12</text><circle cx="391.3" cy="1347" r="1.1" stroke="#555" stroke-width="0.7" fill="none"/><circle cx="391.3" cy="1428" r="1.1" stroke="#555" stroke-width="0.7" fill="none"/><rect x="387.3" y="1443" width="30.4" height="18.4" stroke="#666" stroke-width="1" fill="#fefefe" /><path d="M396.5 1461.4 V1453.4 A6 6 0 0 1 408.5 1453.4 V1461.4" fill="none" stroke="#555" stroke-width="1"/><circle cx="402.5" cy="1453.4" r="4.3" stroke="#666" stroke-width="0.9" fill="none"/><circle cx="390.8" cy="1452.2" r="1" stroke="#666" stroke-width="0.6" fill="none"/><rect x="387.3" y="1461.4" width="30.4" height="4.5" fill="#b0b0b0" stroke="#555" stroke-width="0.9"/><ellipse cx="391.1" cy="1463.7" rx="3" ry="1.4" stroke="#666" stroke-width="0.6" fill="#eee"/><ellipse cx="398.7" cy="1463.7" rx="3" ry="1.4" stroke="#666" stroke-width="0.6" fill="#eee"/><ellipse cx="406.3" cy="1463.7" rx="3" ry="1.4" stroke="#666" stroke-width="0.6" fill="#eee"/><ellipse cx="413.9" cy="1463.7" rx="3" ry="1.4" stroke="#666" stroke-width="0.6" fill="#eee"/><rect x="388.8" y="1465.9" width="27.4" height="39.8" stroke="#666" stroke-width="1" fill="#fefefe" /><rect x="388.8" y="1499.5" width="27.4" height="6.2" fill="#8c8c8c" stroke="#666" stroke-width="0.8"/><line x1="399.5" y1="1474.9" x2="405.5" y2="1474.9" stroke="#444" stroke-width="1.6" /><circle cx="402.5" cy="1481.9" r="1.4" stroke="#555" stroke-width="0.8" fill="none"/><line x1="396" y1="1485.9" x2="396" y2="1492.9" stroke="#444" stroke-width="1.6" /><line x1="409" y1="1485.9" x2="409" y2="1492.9" stroke="#444" stroke-width="1.6" /><rect x="419.2" y="1269.6" width="27.4" height="39.8" stroke="#666" stroke-width="1" fill="#fefefe" /><rect x="419.2" y="1269.6" width="27.4" height="5.2" fill="#8c8c8c" stroke="#666" stroke-width="0.8"/><line x1="426.5" y1="1281.6" x2="426.5" y2="1288.6" stroke="#444" stroke-width="1.6" /><line x1="439.5" y1="1281.6" x2="439.5" y2="1288.6" stroke="#444" stroke-width="1.6" /><rect x="431.6" y="1290.6" width="2.8" height="2.8" stroke="#555" stroke-width="0.8" fill="none" /><line x1="430" y1="1301.1" x2="436" y2="1301.1" stroke="#444" stroke-width="1.6" /><rect x="417.8" y="1309.4" width="30.4" height="5.2" fill="#b0b0b0" stroke="#555" stroke-width="0.9"/><ellipse cx="421.6" cy="1312" rx="3" ry="1.8" stroke="#666" stroke-width="0.6" fill="#eee"/><ellipse cx="429.2" cy="1312" rx="3" ry="1.8" stroke="#666" stroke-width="0.6" fill="#eee"/><ellipse cx="436.8" cy="1312" rx="3" ry="1.8" stroke="#666" stroke-width="0.6" fill="#eee"/><ellipse cx="444.4" cy="1312" rx="3" ry="1.8" stroke="#666" stroke-width="0.6" fill="#eee"/><rect x="417.8" y="1314.6" width="30.4" height="17" stroke="#666" stroke-width="1" fill="#fefefe" /><path d="M427 1314.6 V1322.6 A6 6 0 0 0 439 1322.6 V1314.6" fill="none" stroke="#555" stroke-width="1"/><circle cx="433" cy="1322.6" r="4.3" stroke="#666" stroke-width="0.9" fill="none"/><circle cx="421.2" cy="1323.1" r="1" stroke="#666" stroke-width="0.6" fill="none"/><rect x="417.8" y="1331.6" width="30.4" height="111.4" stroke="#666" stroke-width="1" fill="#fefefe" /><text x="440.7" y="1342.5" font-size="8.5" text-anchor="middle" fill="#333" transform="rotate(90 440.7 1342.5)">14</text><text x="440.2" y="1411.5" font-size="9.5" text-anchor="middle" fill="#333" transform="rotate(90 440.2 1411.5)">2</text><text x="440.7" y="1432" font-size="8.5" text-anchor="middle" fill="#333" transform="rotate(90 440.7 1432)">12</text><circle cx="421.8" cy="1347" r="1.1" stroke="#555" stroke-width="0.7" fill="none"/><circle cx="421.8" cy="1428" r="1.1" stroke="#555" stroke-width="0.7" fill="none"/><rect x="417.8" y="1443" width="30.4" height="18.4" stroke="#666" stroke-width="1" fill="#fefefe" /><path d="M427 1461.4 V1453.4 A6 6 0 0 1 439 1453.4 V1461.4" fill="none" stroke="#555" stroke-width="1"/><circle cx="433" cy="1453.4" r="4.3" stroke="#666" stroke-width="0.9" fill="none"/><circle cx="421.2" cy="1452.2" r="1" stroke="#666" stroke-width="0.6" fill="none"/><rect x="417.8" y="1461.4" width="30.4" height="4.5" fill="#b0b0b0" stroke="#555" stroke-width="0.9"/><ellipse cx="421.6" cy="1463.7" rx="3" ry="1.4" stroke="#666" stroke-width="0.6" fill="#eee"/><ellipse cx="429.2" cy="1463.7" rx="3" ry="1.4" stroke="#666" stroke-width="0.6" fill="#eee"/><ellipse cx="436.8" cy="1463.7" rx="3" ry="1.4" stroke="#666" stroke-width="0.6" fill="#eee"/><ellipse cx="444.4" cy="1463.7" rx="3" ry="1.4" stroke="#666" stroke-width="0.6" fill="#eee"/><rect x="419.2" y="1465.9" width="27.4" height="39.8" stroke="#666" stroke-width="1" fill="#fefefe" /><rect x="419.2" y="1499.5" width="27.4" height="6.2" fill="#8c8c8c" stroke="#666" stroke-width="0.8"/><line x1="430" y1="1474.9" x2="436" y2="1474.9" stroke="#444" stroke-width="1.6" /><circle cx="433" cy="1481.9" r="1.4" stroke="#555" stroke-width="0.8" fill="none"/><line x1="426.5" y1="1485.9" x2="426.5" y2="1492.9" stroke="#444" stroke-width="1.6" /><line x1="439.5" y1="1485.9" x2="439.5" y2="1492.9" stroke="#444" stroke-width="1.6" /><rect x="449.7" y="1269.6" width="27.4" height="39.8" stroke="#666" stroke-width="1" fill="#fefefe" /><rect x="449.7" y="1269.6" width="27.4" height="5.2" fill="#8c8c8c" stroke="#666" stroke-width="0.8"/><line x1="456.9" y1="1281.6" x2="456.9" y2="1288.6" stroke="#444" stroke-width="1.6" /><line x1="469.9" y1="1281.6" x2="469.9" y2="1288.6" stroke="#444" stroke-width="1.6" /><rect x="462" y="1290.6" width="2.8" height="2.8" stroke="#555" stroke-width="0.8" fill="none" /><line x1="460.4" y1="1301.1" x2="466.4" y2="1301.1" stroke="#444" stroke-width="1.6" /><rect x="448.2" y="1309.4" width="30.4" height="5.2" fill="#b0b0b0" stroke="#555" stroke-width="0.9"/><ellipse cx="452" cy="1312" rx="3" ry="1.8" stroke="#666" stroke-width="0.6" fill="#eee"/><ellipse cx="459.6" cy="1312" rx="3" ry="1.8" stroke="#666" stroke-width="0.6" fill="#eee"/><ellipse cx="467.2" cy="1312" rx="3" ry="1.8" stroke="#666" stroke-width="0.6" fill="#eee"/><ellipse cx="474.8" cy="1312" rx="3" ry="1.8" stroke="#666" stroke-width="0.6" fill="#eee"/><rect x="448.2" y="1314.6" width="30.4" height="17" stroke="#666" stroke-width="1" fill="#fefefe" /><path d="M457.4 1314.6 V1322.6 A6 6 0 0 0 469.4 1322.6 V1314.6" fill="none" stroke="#555" stroke-width="1"/><circle cx="463.4" cy="1322.6" r="4.3" stroke="#666" stroke-width="0.9" fill="none"/><circle cx="451.7" cy="1323.1" r="1" stroke="#666" stroke-width="0.6" fill="none"/><rect x="448.2" y="1331.6" width="30.4" height="111.4" stroke="#666" stroke-width="1" fill="#fefefe" /><text x="471.1" y="1342.5" font-size="8.5" text-anchor="middle" fill="#333" transform="rotate(90 471.1 1342.5)">14</text><text x="470.6" y="1411.5" font-size="9.5" text-anchor="middle" fill="#333" transform="rotate(90 470.6 1411.5)">2</text><text x="471.1" y="1432" font-size="8.5" text-anchor="middle" fill="#333" transform="rotate(90 471.1 1432)">12</text><circle cx="452.2" cy="1347" r="1.1" stroke="#555" stroke-width="0.7" fill="none"/><circle cx="452.2" cy="1428" r="1.1" stroke="#555" stroke-width="0.7" fill="none"/><rect x="480.1" y="1269.6" width="27.4" height="39.8" stroke="#666" stroke-width="1" fill="#fefefe" /><rect x="480.1" y="1269.6" width="27.4" height="5.2" fill="#8c8c8c" stroke="#666" stroke-width="0.8"/><line x1="487.4" y1="1281.6" x2="487.4" y2="1288.6" stroke="#444" stroke-width="1.6" /><line x1="500.4" y1="1281.6" x2="500.4" y2="1288.6" stroke="#444" stroke-width="1.6" /><rect x="492.5" y="1290.6" width="2.8" height="2.8" stroke="#555" stroke-width="0.8" fill="none" /><line x1="490.9" y1="1301.1" x2="496.9" y2="1301.1" stroke="#444" stroke-width="1.6" /><rect x="478.6" y="1309.4" width="30.4" height="5.2" fill="#b0b0b0" stroke="#555" stroke-width="0.9"/><ellipse cx="482.5" cy="1312" rx="3" ry="1.8" stroke="#666" stroke-width="0.6" fill="#eee"/><ellipse cx="490.1" cy="1312" rx="3" ry="1.8" stroke="#666" stroke-width="0.6" fill="#eee"/><ellipse cx="497.7" cy="1312" rx="3" ry="1.8" stroke="#666" stroke-width="0.6" fill="#eee"/><ellipse cx="505.3" cy="1312" rx="3" ry="1.8" stroke="#666" stroke-width="0.6" fill="#eee"/><rect x="478.6" y="1314.6" width="30.4" height="17" stroke="#666" stroke-width="1" fill="#fefefe" /><path d="M487.9 1314.6 V1322.6 A6 6 0 0 0 499.9 1322.6 V1314.6" fill="none" stroke="#555" stroke-width="1"/><circle cx="493.9" cy="1322.6" r="4.3" stroke="#666" stroke-width="0.9" fill="none"/><circle cx="482.1" cy="1323.1" r="1" stroke="#666" stroke-width="0.6" fill="none"/><rect x="478.6" y="1331.6" width="30.4" height="111.4" stroke="#666" stroke-width="1" fill="#fefefe" /><text x="501.6" y="1342.5" font-size="8.5" text-anchor="middle" fill="#333" transform="rotate(90 501.6 1342.5)">14</text><text x="501.1" y="1411.5" font-size="9.5" text-anchor="middle" fill="#333" transform="rotate(90 501.1 1411.5)">2</text><text x="501.6" y="1432" font-size="8.5" text-anchor="middle" fill="#333" transform="rotate(90 501.6 1432)">12</text><circle cx="482.6" cy="1347" r="1.1" stroke="#555" stroke-width="0.7" fill="none"/><circle cx="482.6" cy="1428" r="1.1" stroke="#555" stroke-width="0.7" fill="none"/><rect x="478.6" y="1443" width="30.4" height="18.4" stroke="#666" stroke-width="1" fill="#fefefe" /><path d="M487.9 1461.4 V1453.4 A6 6 0 0 1 499.9 1453.4 V1461.4" fill="none" stroke="#555" stroke-width="1"/><circle cx="493.9" cy="1453.4" r="4.3" stroke="#666" stroke-width="0.9" fill="none"/><circle cx="482.1" cy="1452.2" r="1" stroke="#666" stroke-width="0.6" fill="none"/><rect x="478.6" y="1461.4" width="30.4" height="4.5" fill="#b0b0b0" stroke="#555" stroke-width="0.9"/><ellipse cx="482.5" cy="1463.7" rx="3" ry="1.4" stroke="#666" stroke-width="0.6" fill="#eee"/><ellipse cx="490.1" cy="1463.7" rx="3" ry="1.4" stroke="#666" stroke-width="0.6" fill="#eee"/><ellipse cx="497.7" cy="1463.7" rx="3" ry="1.4" stroke="#666" stroke-width="0.6" fill="#eee"/><ellipse cx="505.3" cy="1463.7" rx="3" ry="1.4" stroke="#666" stroke-width="0.6" fill="#eee"/><rect x="480.1" y="1465.9" width="27.4" height="39.8" stroke="#666" stroke-width="1" fill="#fefefe" /><rect x="480.1" y="1499.5" width="27.4" height="6.2" fill="#8c8c8c" stroke="#666" stroke-width="0.8"/><line x1="490.9" y1="1474.9" x2="496.9" y2="1474.9" stroke="#444" stroke-width="1.6" /><circle cx="493.9" cy="1481.9" r="1.4" stroke="#555" stroke-width="0.8" fill="none"/><line x1="487.4" y1="1485.9" x2="487.4" y2="1492.9" stroke="#444" stroke-width="1.6" /><line x1="500.4" y1="1485.9" x2="500.4" y2="1492.9" stroke="#444" stroke-width="1.6" /><line x1="295.9" y1="1314.6" x2="295.9" y2="1461.4" stroke="#3a3a3a" stroke-width="1.6" /><line x1="326.4" y1="1314.6" x2="326.4" y2="1461.4" stroke="#3a3a3a" stroke-width="1.6" /><line x1="356.9" y1="1314.6" x2="356.9" y2="1443" stroke="#3a3a3a" stroke-width="1.6" /><line x1="387.3" y1="1314.6" x2="387.3" y2="1461.4" stroke="#3a3a3a" stroke-width="1.6" /><line x1="417.8" y1="1314.6" x2="417.8" y2="1461.4" stroke="#3a3a3a" stroke-width="1.6" /><line x1="448.2" y1="1314.6" x2="448.2" y2="1461.4" stroke="#3a3a3a" stroke-width="1.6" /><line x1="478.6" y1="1314.6" x2="478.6" y2="1461.4" stroke="#3a3a3a" stroke-width="1.6" /><g transform="translate(273,1382.5) rotate(-51)"><path d="M1.5 -6.8 L3 -7.8 H9 A7.8 7.8 0 0 1 9 7.8 H3 L1.5 6.8" fill="#fff" stroke="#777" stroke-width="0.9"/><path d="M1.5 -6 H9.5 A6 6 0 0 1 9.5 6 H1.5 Z" fill="#fff" stroke="#555" stroke-width="1"/><rect x="-15.5" y="-6" width="17" height="12" fill="#fff" stroke="#444" stroke-width="2.1"/></g><g transform="translate(304.4,1382.5) rotate(-51)"><path d="M1.5 -6.8 L3 -7.8 H9 A7.8 7.8 0 0 1 9 7.8 H3 L1.5 6.8" fill="#fff" stroke="#777" stroke-width="0.9"/><path d="M1.5 -6 H9.5 A6 6 0 0 1 9.5 6 H1.5 Z" fill="#fff" stroke="#555" stroke-width="1"/><rect x="-15.5" y="-6" width="17" height="12" fill="#fff" stroke="#444" stroke-width="2.1"/></g><g transform="translate(335.8,1382.5) rotate(-51)"><path d="M1.5 -6.8 L3 -7.8 H9 A7.8 7.8 0 0 1 9 7.8 H3 L1.5 6.8" fill="#fff" stroke="#777" stroke-width="0.9"/><path d="M1.5 -6 H9.5 A6 6 0 0 1 9.5 6 H1.5 Z" fill="#fff" stroke="#555" stroke-width="1"/><rect x="-15.5" y="-6" width="17" height="12" fill="#fff" stroke="#444" stroke-width="2.1"/></g><g transform="translate(367.2,1382.5) rotate(-51)"><path d="M1.5 -6.8 L3 -7.8 H9 A7.8 7.8 0 0 1 9 7.8 H3 L1.5 6.8" fill="#fff" stroke="#777" stroke-width="0.9"/><path d="M1.5 -6 H9.5 A6 6 0 0 1 9.5 6 H1.5 Z" fill="#fff" stroke="#555" stroke-width="1"/><rect x="-15.5" y="-6" width="17" height="12" fill="#fff" stroke="#444" stroke-width="2.1"/></g><g transform="translate(398.6,1382.5) rotate(-51)"><path d="M1.5 -6.8 L3 -7.8 H9 A7.8 7.8 0 0 1 9 7.8 H3 L1.5 6.8" fill="#fff" stroke="#777" stroke-width="0.9"/><path d="M1.5 -6 H9.5 A6 6 0 0 1 9.5 6 H1.5 Z" fill="#fff" stroke="#555" stroke-width="1"/><rect x="-15.5" y="-6" width="17" height="12" fill="#fff" stroke="#444" stroke-width="2.1"/></g><g transform="translate(273.3,1407.5) rotate(-51)"><path d="M1.5 -6.8 L3 -7.8 H9 A7.8 7.8 0 0 1 9 7.8 H3 L1.5 6.8" fill="#fff" stroke="#777" stroke-width="0.9"/><path d="M1.5 -6 H9.5 A6 6 0 0 1 9.5 6 H1.5 Z" fill="#fff" stroke="#555" stroke-width="1"/><rect x="-15.5" y="-6" width="17" height="12" fill="#fff" stroke="#444" stroke-width="2.1"/></g><g transform="translate(304.7,1407.5) rotate(-51)"><path d="M1.5 -6.8 L3 -7.8 H9 A7.8 7.8 0 0 1 9 7.8 H3 L1.5 6.8" fill="#fff" stroke="#777" stroke-width="0.9"/><path d="M1.5 -6 H9.5 A6 6 0 0 1 9.5 6 H1.5 Z" fill="#fff" stroke="#555" stroke-width="1"/><rect x="-15.5" y="-6" width="17" height="12" fill="#fff" stroke="#444" stroke-width="2.1"/></g><circle cx="341.9" cy="1400.5" r="5" stroke="#555" stroke-width="1.2" fill="#fefefe"/><circle cx="341.9" cy="1400.5" r="3.2" stroke="#777" stroke-width="0.8" fill="none"/><circle cx="372.4" cy="1400.5" r="5" stroke="#555" stroke-width="1.2" fill="#fefefe"/><circle cx="372.4" cy="1400.5" r="3.2" stroke="#777" stroke-width="0.8" fill="none"/><circle cx="402.8" cy="1400.5" r="5" stroke="#555" stroke-width="1.2" fill="#fefefe"/><circle cx="402.8" cy="1400.5" r="3.2" stroke="#777" stroke-width="0.8" fill="none"/><circle cx="433.2" cy="1400.5" r="5" stroke="#555" stroke-width="1.2" fill="#fefefe"/><circle cx="433.2" cy="1400.5" r="3.2" stroke="#777" stroke-width="0.8" fill="none"/><rect x="449.7" y="1319" width="26" height="17.7" fill="#717171"/><rect x="450.2" y="1338" width="24" height="9" stroke="#666" stroke-width="0.9" fill="#fefefe" /><rect x="450.2" y="1349" width="24" height="8" stroke="#666" stroke-width="0.9" fill="#fefefe" /><rect x="438.8" y="1341" width="10" height="9" stroke="#666" stroke-width="1" fill="#fefefe" /><rect x="438.8" y="1366.3" width="47.9" height="14.7" stroke="#555" stroke-width="1" fill="#fefefe" /><g transform="translate(429,1378.5) rotate(-51)"><path d="M1.5 -6.8 L3 -7.8 H9 A7.8 7.8 0 0 1 9 7.8 H3 L1.5 6.8" fill="#fff" stroke="#777" stroke-width="0.9"/><path d="M1.5 -6 H9.5 A6 6 0 0 1 9.5 6 H1.5 Z" fill="#fff" stroke="#555" stroke-width="1"/><rect x="-15.5" y="-6" width="17" height="12" fill="#fff" stroke="#444" stroke-width="2.1"/></g><circle cx="463.2" cy="1400.5" r="5" stroke="#555" stroke-width="1.2" fill="#fefefe"/><g transform="translate(492,1365) rotate(30)"><rect x="-16" y="-7" width="32" height="14" fill="#fff" stroke="#444" stroke-width="1.6"/><rect x="-14" y="-5" width="6" height="10" fill="#777"/></g><circle cx="497" cy="1374" r="7" stroke="#444" stroke-width="1.3" fill="#fefefe"/><circle cx="497" cy="1374" r="4.5" stroke="#555" stroke-width="1" fill="none"/><circle cx="497" cy="1374" r="2" stroke="#555" stroke-width="1" fill="none"/><g transform="translate(492,1405) rotate(-60)"><rect x="-18" y="-7" width="36" height="14" fill="#fff" stroke="#444" stroke-width="1.6"/><rect x="8" y="-5" width="8" height="10" fill="#777"/></g><circle cx="494" cy="1400" r="6.5" stroke="#444" stroke-width="1.3" fill="#fefefe"/><circle cx="494" cy="1400" r="4" stroke="#555" stroke-width="1" fill="none"/><polygon points="524.4,1379.4 530.9,1383.2 530.9,1390.7 524.4,1394.4 517.9,1390.7 517.9,1383.2" fill="#fefefe" stroke="#555" stroke-width="1"/><circle cx="524.4" cy="1386.9" r="4.5" stroke="#666" stroke-width="0.9" fill="none"/><rect x="535.6" y="1348" width="2.6" height="79" fill="#aaa"/><rect x="541.2" y="1269.6" width="25.7" height="39.8" stroke="#666" stroke-width="1" fill="#fefefe" /><rect x="541.2" y="1269.6" width="25.7" height="5.2" fill="#8c8c8c" stroke="#666" stroke-width="0.8"/><line x1="547.6" y1="1281.6" x2="547.6" y2="1288.6" stroke="#444" stroke-width="1.6" /><line x1="560.6" y1="1281.6" x2="560.6" y2="1288.6" stroke="#444" stroke-width="1.6" /><rect x="552.7" y="1290.6" width="2.8" height="2.8" stroke="#555" stroke-width="0.8" fill="none" /><line x1="551.1" y1="1301.1" x2="557.1" y2="1301.1" stroke="#444" stroke-width="1.6" /><rect x="539.7" y="1309.4" width="28.7" height="5.2" fill="#b0b0b0" stroke="#555" stroke-width="0.9"/><ellipse cx="543.3" cy="1312" rx="2.9" ry="1.8" stroke="#666" stroke-width="0.6" fill="#eee"/><ellipse cx="550.5" cy="1312" rx="2.9" ry="1.8" stroke="#666" stroke-width="0.6" fill="#eee"/><ellipse cx="557.6" cy="1312" rx="2.9" ry="1.8" stroke="#666" stroke-width="0.6" fill="#eee"/><ellipse cx="564.8" cy="1312" rx="2.9" ry="1.8" stroke="#666" stroke-width="0.6" fill="#eee"/><rect x="539.7" y="1314.6" width="28.7" height="128.4" stroke="#666" stroke-width="1" fill="#fefefe" /><circle cx="553.5" cy="1330.7" r="6.5" stroke="#555" stroke-width="1.2" fill="#fefefe"/><circle cx="553.5" cy="1330.7" r="4.2" stroke="#666" stroke-width="0.9" fill="none"/><rect x="546" y="1338" width="15" height="6" stroke="#666" stroke-width="0.9" fill="#fefefe" /><rect x="545" y="1344" width="17" height="13" stroke="#666" stroke-width="1" fill="#fefefe" /><line x1="553.5" y1="1344" x2="553.5" y2="1357" stroke="#666" stroke-width="0.9" /><rect x="544.5" y="1357" width="18" height="5" stroke="#666" stroke-width="0.8" fill="#fefefe" /><circle cx="553.5" cy="1373.9" r="10.5" stroke="#444" stroke-width="1.4" fill="#fefefe"/><circle cx="553.5" cy="1373.9" r="8" stroke="#777" stroke-width="0.8" fill="none"/><circle cx="553.5" cy="1373.9" r="2.5" stroke="#444" stroke-width="1.2" fill="none"/><circle cx="553.5" cy="1400.7" r="5" stroke="#555" stroke-width="1.2" fill="#fefefe"/><text x="560.4" y="1411.5" font-size="9.5" text-anchor="middle" fill="#333" transform="rotate(90 560.4 1411.5)">2</text><text x="560.9" y="1342.5" font-size="8.5" text-anchor="middle" fill="#333" transform="rotate(90 560.9 1342.5)">14</text><text x="560.9" y="1432" font-size="8.5" text-anchor="middle" fill="#333" transform="rotate(90 560.9 1432)">12</text><circle cx="543.7" cy="1428" r="1.1" stroke="#555" stroke-width="0.7" fill="none"/><rect x="539.7" y="1443.2" width="28.7" height="18.2" stroke="#666" stroke-width="1" fill="#fefefe" /><path d="M548.1 1461.4 V1453.4 A6 6 0 0 1 560.1 1453.4 V1461.4" fill="none" stroke="#555" stroke-width="1"/><circle cx="554.1" cy="1453.4" r="4.3" stroke="#666" stroke-width="0.9" fill="none"/><circle cx="543.2" cy="1452.3" r="1" stroke="#666" stroke-width="0.6" fill="none"/><rect x="539.7" y="1461.4" width="28.7" height="4.5" fill="#b0b0b0" stroke="#555" stroke-width="0.9"/><ellipse cx="543.3" cy="1463.7" rx="2.9" ry="1.4" stroke="#666" stroke-width="0.6" fill="#eee"/><ellipse cx="550.5" cy="1463.7" rx="2.9" ry="1.4" stroke="#666" stroke-width="0.6" fill="#eee"/><ellipse cx="557.6" cy="1463.7" rx="2.9" ry="1.4" stroke="#666" stroke-width="0.6" fill="#eee"/><ellipse cx="564.8" cy="1463.7" rx="2.9" ry="1.4" stroke="#666" stroke-width="0.6" fill="#eee"/><rect x="541.2" y="1465.9" width="25.7" height="39.8" stroke="#666" stroke-width="1" fill="#fefefe" /><rect x="541.2" y="1499.5" width="25.7" height="6.2" fill="#8c8c8c" stroke="#666" stroke-width="0.8"/><line x1="551.1" y1="1474.9" x2="557.1" y2="1474.9" stroke="#444" stroke-width="1.6" /><circle cx="554.1" cy="1481.9" r="1.4" stroke="#555" stroke-width="0.8" fill="none"/><line x1="547.6" y1="1485.9" x2="547.6" y2="1492.9" stroke="#444" stroke-width="1.6" /><line x1="560.6" y1="1485.9" x2="560.6" y2="1492.9" stroke="#444" stroke-width="1.6" /><circle cx="576" cy="1350.5" r="1.2" stroke="#666" stroke-width="0.7" fill="none"/><circle cx="576" cy="1424" r="1.2" stroke="#666" stroke-width="0.7" fill="none"/><rect x="598.7" y="1351" width="2.6" height="20" fill="#666"/><circle cx="604.5" cy="1352.5" r="3.8" stroke="#555" stroke-width="1" fill="#fefefe"/><circle cx="604.5" cy="1360" r="3.8" stroke="#555" stroke-width="1" fill="#fefefe"/><circle cx="604.5" cy="1367.5" r="3.8" stroke="#555" stroke-width="1" fill="#fefefe"/><rect x="598.7" y="1401.5" width="2.6" height="20" fill="#666"/><circle cx="604.5" cy="1403" r="3.8" stroke="#555" stroke-width="1" fill="#fefefe"/><circle cx="604.5" cy="1410.5" r="3.8" stroke="#555" stroke-width="1" fill="#fefefe"/><circle cx="604.5" cy="1418" r="3.8" stroke="#555" stroke-width="1" fill="#fefefe"/><rect x="609.8" y="1352.3" width="17" height="15" stroke="#666" stroke-width="1" fill="#fefefe" /><rect x="609.8" y="1403.3" width="17" height="15.7" stroke="#666" stroke-width="1" fill="#fefefe" /><rect x="600.6" y="1377" width="9.2" height="16" stroke="#666" stroke-width="1" fill="#fefefe" /><circle cx="612.4" cy="1385" r="7" stroke="#555" stroke-width="1.3" fill="#fefefe"/><circle cx="612.4" cy="1385" r="4.8" stroke="#666" stroke-width="1" fill="none"/><text x="354.2" y="1165.9" font-size="14.8" text-anchor="middle" fill="#444" letter-spacing="0.6">Manual Override</text><line x1="363.1" y1="1170.2" x2="370" y2="1318" stroke="#555" stroke-width="0.8" /><text x="258.8" y="1194.2" font-size="16.5" text-anchor="middle" fill="#2e2e2e" stroke="#2e2e2e" stroke-width="0.35">11</text><line x1="260" y1="1197.3" x2="226" y2="1380" stroke="#555" stroke-width="0.8" /><text x="278.8" y="1208" font-size="16.5" text-anchor="middle" fill="#2e2e2e" stroke="#2e2e2e" stroke-width="0.35">10</text><line x1="279.1" y1="1211.2" x2="238" y2="1350" stroke="#555" stroke-width="0.9" /><polygon points="238,1350 238.3,1342.8 241.7,1343.8" fill="#444"/><text x="309" y="1195.8" font-size="16.5" text-anchor="middle" fill="#2e2e2e" stroke="#2e2e2e" stroke-width="0.35">9</text><line x1="308.6" y1="1197.3" x2="338" y2="1372" stroke="#555" stroke-width="0.8" /><text x="390.5" y="1191.8" font-size="16.5" text-anchor="middle" fill="#2e2e2e" stroke="#2e2e2e" stroke-width="0.35">8</text><line x1="388.6" y1="1195.8" x2="446" y2="1345" stroke="#555" stroke-width="0.8" /><text x="442.3" y="1207.6" font-size="16" text-anchor="middle" fill="#2e2e2e" stroke="#2e2e2e" stroke-width="0.35">5,6,7,11</text><line x1="444" y1="1211.2" x2="466" y2="1320" stroke="#555" stroke-width="0.8" /><text x="516.6" y="1221" font-size="16.5" text-anchor="middle" fill="#2e2e2e" stroke="#2e2e2e" stroke-width="0.35">12</text><line x1="516.9" y1="1223.5" x2="494" y2="1342" stroke="#555" stroke-width="0.8" /><text x="165.4" y="1223.3" font-size="16.5" text-anchor="middle" fill="#2e2e2e" stroke="#2e2e2e" stroke-width="0.35">15</text><line x1="166.2" y1="1225" x2="137.8" y2="1373.6" stroke="#555" stroke-width="0.9" /><polygon points="137.8,1373.6 137.3,1366.4 140.9,1367.1" fill="#444"/><text x="683.5" y="1396.8" font-size="14.5" text-anchor="middle" fill="#444" >1</text><line x1="676.5" y1="1388.9" x2="561.4" y2="1334.7" stroke="#555" stroke-width="0.8" /><text x="668" y="1426.2" font-size="15" text-anchor="middle" fill="#333" font-weight="bold">2</text><path d="M659.5 1417 Q640 1400 621.5 1388.9" stroke="#555" stroke-width="0.9" fill="none"/><polygon points="621.5,1388.9 628.4,1391 626.6,1394" fill="#444"/><text x="668" y="1453" font-size="15" text-anchor="middle" fill="#333" font-weight="bold">3</text><path d="M659.5 1444.5 Q645 1430 627.4 1419.7" stroke="#555" stroke-width="0.9" fill="none"/><polygon points="627.4,1419.7 634.4,1421.7 632.5,1424.8" fill="#444"/><text x="678.8" y="1507.3" font-size="15" text-anchor="middle" fill="#333" font-weight="bold">4</text><line x1="668.6" y1="1498.8" x2="557.5" y2="1385" stroke="#555" stroke-width="0.8" /><text x="461.5" y="1533.8" font-size="17" text-anchor="middle" fill="#444" letter-spacing="-0.8">14</text><line x1="462.9" y1="1516.5" x2="467" y2="1445" stroke="#555" stroke-width="0.8" /><polygon points="467,1445 468.6,1452.1 465,1451.9" fill="#444"/><text x="524" y="1537.3" font-size="17" text-anchor="middle" fill="#444" letter-spacing="-0.8">13</text><line x1="519.4" y1="1518.3" x2="506.7" y2="1503.8" stroke="#555" stroke-width="0.9" /><polygon points="506.7,1503.8 512.7,1507.9 510,1510.3" fill="#444"/><line x1="528.7" y1="1518.8" x2="540.8" y2="1503.8" stroke="#555" stroke-width="0.9" /><polygon points="540.8,1503.8 537.8,1510.4 535,1508.1" fill="#444"/></svg>
<div class="a banner"></div>
<div class="a forenta">Forenta</div>
<div class="a body-t">BODY</div>
<div class="a hr"></div>

<div class="a" style="left:64px;top:678px;width:1151px;height:413.5px;border:1.4px solid #444;"></div>
<div class="a title" style="left:744px;top:272px;">Control Box</div>
<div class="a hd" style="left:746.5px;top:306.2px;width:397.5px;height:21.4px;"></div>
<span class="a tx hdt" style="left:753px;width:40px;text-align:center;top:305.6px;">#</span>
<span class="a tx hdt sc" style="left:812.8px;top:305.6px;transform:scaleX(1.055)">Parts #</span>
<span class="a tx hdt sc" style="left:947.21px;top:305.6px;transform:scaleX(1.07)">Description</span>
<span class="a tx" style="left:753px;width:40px;text-align:center;top:327.5px;">1</span>
<span class="a tx sc" style="left:813px;top:327.5px;transform:scaleX(1.075)">31697</span>
<span class="a tx sc" style="left:947.28px;top:327.5px;transform:scaleX(1.0124)">Power Supply 24VDC</span>
<div class="a gr" style="left:746.5px;top:350.4px;width:397.5px;height:22.5px;"></div>
<span class="a tx txg" style="left:753px;width:40px;text-align:center;top:350px;">2</span>
<span class="a tx txg sc" style="left:813px;top:350px;transform:scaleX(1.075)">31702</span>
<span class="a tx txg sc" style="left:947.22px;top:350px;transform:scaleX(1.0616)">1 Amp Fuse</span>
<span class="a tx" style="left:753px;width:40px;text-align:center;top:372.5px;">3</span>
<span class="a tx sc" style="left:813px;top:372.5px;transform:scaleX(1.075)">31585</span>
<span class="a tx sc" style="left:947.28px;top:372.5px;transform:scaleX(1.0183)">4 Pole Relay</span>
<div class="a gr" style="left:746.5px;top:395.4px;width:397.5px;height:22.5px;"></div>
<span class="a tx txg" style="left:753px;width:40px;text-align:center;top:395px;">4</span>
<span class="a tx txg sc" style="left:813px;top:395px;transform:scaleX(1.075)">28274</span>
<span class="a tx txg sc" style="left:947.29px;top:395px;transform:scaleX(1.0042)">4 Pole Relay Base</span>
<span class="a tx" style="left:753px;width:40px;text-align:center;top:417.5px;">5</span>
<span class="a tx sc" style="left:813px;top:417.5px;transform:scaleX(1.075)">31584</span>
<span class="a tx sc" style="left:947.28px;top:417.5px;transform:scaleX(1.0183)">2 Pole Relay</span>
<div class="a gr" style="left:746.5px;top:440.4px;width:397.5px;height:22.5px;"></div>
<span class="a tx txg" style="left:753px;width:40px;text-align:center;top:440px;">6</span>
<span class="a tx txg sc" style="left:813px;top:440px;transform:scaleX(1.075)">31586</span>
<span class="a tx txg sc" style="left:947.29px;top:440px;transform:scaleX(1.0042)">2 Pole Relay Base</span>
<span class="a tx" style="left:753px;width:40px;text-align:center;top:462.5px;">7</span>
<span class="a tx sc" style="left:813px;top:462.5px;transform:scaleX(1.075)">23347</span>
<span class="a tx sc" style="left:947.23px;top:462.5px;transform:scaleX(1.0559)">2 Hand Relay</span>
<div class="a" style="left:746.5px;top:485.6px;width:397.5px;height:1.3px;background:#555;"></div>
<div class="a title" style="left:173px;top:783px;">Vacuum Pump</div>
<div class="a hd" style="left:172.2px;top:819.3px;width:397.8px;height:21.7px;"></div>
<span class="a tx hdt" style="left:185px;width:40px;text-align:center;top:818.85px;">#</span>
<span class="a tx hdt sc" style="left:244.1px;top:818.85px;transform:scaleX(1.055)">Parts #</span>
<span class="a tx hdt sc" style="left:362.61px;top:818.85px;transform:scaleX(1.07)">Description</span>
<span class="a tx" style="left:185px;width:40px;text-align:center;top:842.9px;">1</span>
<span class="a tx sc" style="left:244.3px;top:842.9px;transform:scaleX(1.075)">20709</span>
<span class="a tx sc" style="left:362.57px;top:842.9px;transform:scaleX(1.1000)">Vacuum Muffler</span>
<div class="a gr" style="left:172.2px;top:864.7px;width:397.8px;height:22.4px;"></div>
<span class="a tx txg" style="left:185px;width:40px;text-align:center;top:865.3px;">2</span>
<span class="a tx txg sc" style="left:244.3px;top:865.3px;transform:scaleX(1.075)">20669</span>
<span class="a tx txg sc" style="left:362.6px;top:865.3px;transform:scaleX(1.0793)">Vacuum Valve N.C</span>
<span class="a tx" style="left:185px;width:40px;text-align:center;top:887.7px;">3</span>
<span class="a tx sc" style="left:244.3px;top:887.7px;transform:scaleX(1.075)">20707</span>
<span class="a tx sc" style="left:362.64px;top:887.7px;transform:scaleX(1.0439)">Motor 1/2Hp/3Ph</span>
<div class="a gr" style="left:172.2px;top:909.5px;width:397.8px;height:22.4px;"></div>
<span class="a tx txg" style="left:185px;width:40px;text-align:center;top:910.1px;">4</span>
<span class="a tx txg sc" style="left:244.3px;top:910.1px;transform:scaleX(1.075)">20669</span>
<span class="a tx txg sc" style="left:362.6px;top:910.1px;transform:scaleX(1.0767)">Vacuum Valve N.O</span>
<span class="a tx" style="left:185px;width:40px;text-align:center;top:932.5px;">5</span>
<span class="a tx sc" style="left:244.3px;top:932.5px;transform:scaleX(1.075)">20766</span>
<span class="a tx sc" style="left:362.69px;top:932.5px;transform:scaleX(1.0057)">Shuttle</span>
<div class="a" style="left:172.2px;top:953px;width:397.8px;height:1.3px;background:#555;"></div>
<div class="a title" style="left:735px;top:1173px;">Vacuum Pump</div>
<div class="a hd" style="left:739.8px;top:1209.5px;width:477.2px;height:22.1px;"></div>
<span class="a tx hdt" style="left:752px;width:40px;text-align:center;top:1209.25px;">#</span>
<span class="a tx hdt sc" style="left:812.1px;top:1209.25px;transform:scaleX(1.055)">Parts #</span>
<span class="a tx hdt sc" style="left:946.41px;top:1209.25px;transform:scaleX(1.07)">Description</span>
<span class="a tx" style="left:752px;width:40px;text-align:center;top:1233.2px;">1</span>
<span class="a tx sc" style="left:812.3px;top:1233.2px;transform:scaleX(1.075)">30889-4</span>
<span class="a tx sc" style="left:946.49px;top:1233.2px;transform:scaleX(1.0095)">Fitting, Elbow</span>
<div class="a gr" style="left:739.8px;top:1256.1px;width:477.2px;height:22.5px;"></div>
<span class="a tx txg" style="left:752px;width:40px;text-align:center;top:1255.7px;">2</span>
<span class="a tx txg sc" style="left:812.3px;top:1255.7px;transform:scaleX(1.075)">30889-12</span>
<span class="a tx txg sc" style="left:946.49px;top:1255.7px;transform:scaleX(1.0095)">Fitting, Elbow</span>
<span class="a tx" style="left:752px;width:40px;text-align:center;top:1278.2px;">3</span>
<span class="a tx sc" style="left:812.3px;top:1278.2px;transform:scaleX(1.075)">31227</span>
<span class="a tx sc" style="left:946.39px;top:1278.2px;transform:scaleX(1.0816)">Muffler</span>
<div class="a gr" style="left:739.8px;top:1301.1px;width:477.2px;height:22.5px;"></div>
<span class="a tx txg" style="left:752px;width:40px;text-align:center;top:1300.7px;">4</span>
<span class="a tx txg sc" style="left:812.3px;top:1300.7px;transform:scaleX(1.075)">31592</span>
<span class="a tx txg sc" style="left:946.51px;top:1300.7px;transform:scaleX(0.9937)">Slow Start Valve</span>
<span class="a tx" style="left:752px;width:40px;text-align:center;top:1323.2px;">5</span>
<span class="a tx sc" style="left:812.3px;top:1323.2px;transform:scaleX(1.075)">27153-5</span>
<span class="a tx sc" style="left:946.48px;top:1323.2px;transform:scaleX(1.0115)">Street Tee</span>
<div class="a gr" style="left:739.8px;top:1346.1px;width:477.2px;height:22.5px;"></div>
<span class="a tx txg" style="left:752px;width:40px;text-align:center;top:1345.7px;">6</span>
<span class="a tx txg sc" style="left:812.3px;top:1345.7px;transform:scaleX(1.075)">31593</span>
<span class="a tx txg sc" style="left:946.42px;top:1345.7px;transform:scaleX(1.0621)">Head Closing Valve</span>
<span class="a tx" style="left:752px;width:40px;text-align:center;top:1368.2px;">8</span>
<span class="a tx sc" style="left:812.3px;top:1368.2px;transform:scaleX(1.075)">30890-7</span>
<span class="a tx sc" style="left:946.45px;top:1368.2px;transform:scaleX(1.0391)">Fitting, Male Tee</span>
<div class="a gr" style="left:739.8px;top:1391.1px;width:477.2px;height:22.5px;"></div>
<span class="a tx txg" style="left:752px;width:40px;text-align:center;top:1390.7px;">9</span>
<span class="a tx txg sc" style="left:812.3px;top:1390.7px;transform:scaleX(1.075)">30889-3</span>
<span class="a tx txg sc" style="left:946.49px;top:1390.7px;transform:scaleX(1.0095)">Fitting, Elbow</span>
<span class="a tx" style="left:752px;width:40px;text-align:center;top:1413.2px;">10</span>
<span class="a tx sc" style="left:812.3px;top:1413.2px;transform:scaleX(1.075)">31588</span>
<span class="a tx sc" style="left:946.5px;top:1413.2px;transform:scaleX(1.0000)">Manifold Assy.</span>
<div class="a gr" style="left:739.8px;top:1436.1px;width:477.2px;height:22.5px;"></div>
<span class="a tx txg" style="left:752px;width:40px;text-align:center;top:1435.7px;">11</span>
<span class="a tx txg sc" style="left:812.3px;top:1435.7px;transform:scaleX(1.075)">30889-13</span>
<span class="a tx txg sc" style="left:946.49px;top:1435.7px;transform:scaleX(1.0095)">Fitting, Elbow</span>
<span class="a tx" style="left:752px;width:40px;text-align:center;top:1458.2px;">12</span>
<span class="a tx sc" style="left:812.3px;top:1458.2px;transform:scaleX(1.075)">31710</span>
<span class="a tx sc" style="left:946.44px;top:1458.2px;transform:scaleX(1.0476)">Buck Control Valve</span>
<div class="a gr" style="left:739.8px;top:1481.1px;width:477.2px;height:22.5px;"></div>
<span class="a tx txg" style="left:752px;width:40px;text-align:center;top:1480.7px;">13</span>
<span class="a tx txg sc" style="left:812.3px;top:1480.7px;transform:scaleX(1.075)">31471</span>
<span class="a tx txg sc" style="left:946.43px;top:1480.7px;transform:scaleX(1.0571)">Double Solenoid Valve</span>
<span class="a tx" style="left:752px;width:40px;text-align:center;top:1503.2px;">14</span>
<span class="a tx sc" style="left:812.3px;top:1503.2px;transform:scaleX(1.075)">31402</span>
<span class="a tx sc" style="left:946.45px;top:1503.2px;transform:scaleX(1.0402)">Single Solenoid Valve</span>
<div class="a gr" style="left:739.8px;top:1526.1px;width:477.2px;height:22.5px;"></div>
<span class="a tx txg" style="left:752px;width:40px;text-align:center;top:1525.7px;">15</span>
<span class="a tx txg sc" style="left:812.3px;top:1525.7px;transform:scaleX(1.075)">31658</span>
<span class="a tx txg sc" style="left:946.43px;top:1525.7px;transform:scaleX(1.0500)">Sleeve Expander control Valve</span>
<div class="a foot">www.nymusa.com</div>
<div class="a vbar"></div>
<div class="a pg">81</div>
<div class="a edgeL"></div>
<div class="a edgeB"></div>

</body></html>
